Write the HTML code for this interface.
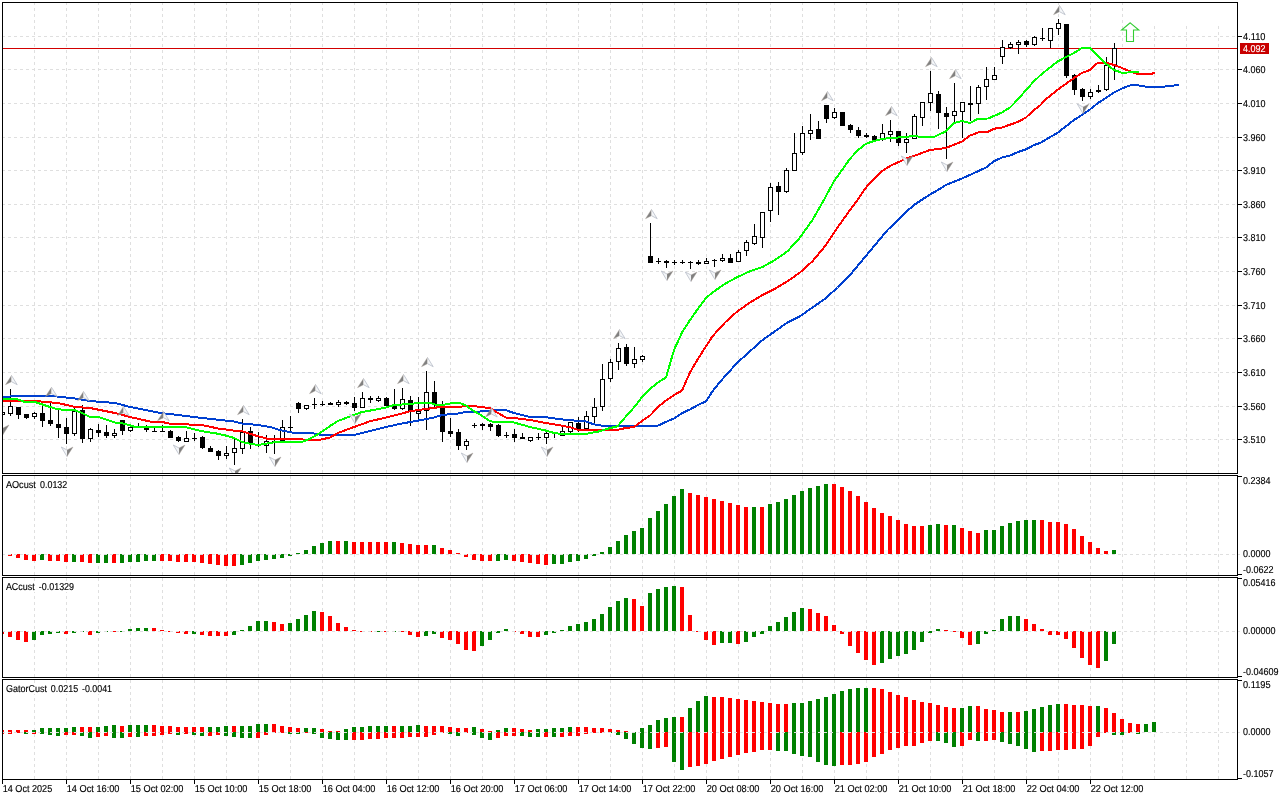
<!DOCTYPE html>
<html><head><meta charset="utf-8"><title>Chart</title>
<style>html,body{margin:0;padding:0;background:#fff;overflow:hidden}svg{display:block}text{font-family:"Liberation Sans",sans-serif;fill:#000}</style>
</head><body>
<svg width="1280" height="800" viewBox="0 0 1280 800" shape-rendering="crispEdges">
<rect width="1280" height="800" fill="#fff"/>
<g stroke="#dfdfdf" stroke-width="1" stroke-dasharray="3 3" fill="none">
<line x1="2" y1="36.5" x2="1237" y2="36.5"/>
<line x1="2" y1="69.5" x2="1237" y2="69.5"/>
<line x1="2" y1="103.5" x2="1237" y2="103.5"/>
<line x1="2" y1="137.5" x2="1237" y2="137.5"/>
<line x1="2" y1="170.5" x2="1237" y2="170.5"/>
<line x1="2" y1="204.5" x2="1237" y2="204.5"/>
<line x1="2" y1="237.5" x2="1237" y2="237.5"/>
<line x1="2" y1="271.5" x2="1237" y2="271.5"/>
<line x1="2" y1="305.5" x2="1237" y2="305.5"/>
<line x1="2" y1="338.5" x2="1237" y2="338.5"/>
<line x1="2" y1="372.5" x2="1237" y2="372.5"/>
<line x1="2" y1="406.5" x2="1237" y2="406.5"/>
<line x1="2" y1="439.5" x2="1237" y2="439.5"/>
<line x1="2" y1="554.5" x2="1240" y2="554.5"/>
<line x1="2" y1="631.5" x2="1240" y2="631.5"/>
<line x1="2" y1="732.5" x2="1240" y2="732.5"/>
<line x1="34.5" y1="3" x2="34.5" y2="473" stroke-dashoffset="1"/>
<line x1="34.5" y1="476" x2="34.5" y2="575" stroke-dashoffset="0"/>
<line x1="34.5" y1="578" x2="34.5" y2="677" stroke-dashoffset="0"/>
<line x1="34.5" y1="680" x2="34.5" y2="779" stroke-dashoffset="0"/>
<line x1="66.5" y1="3" x2="66.5" y2="473" stroke-dashoffset="1"/>
<line x1="66.5" y1="476" x2="66.5" y2="575" stroke-dashoffset="0"/>
<line x1="66.5" y1="578" x2="66.5" y2="677" stroke-dashoffset="0"/>
<line x1="66.5" y1="680" x2="66.5" y2="779" stroke-dashoffset="0"/>
<line x1="98.5" y1="3" x2="98.5" y2="473" stroke-dashoffset="1"/>
<line x1="98.5" y1="476" x2="98.5" y2="575" stroke-dashoffset="0"/>
<line x1="98.5" y1="578" x2="98.5" y2="677" stroke-dashoffset="0"/>
<line x1="98.5" y1="680" x2="98.5" y2="779" stroke-dashoffset="0"/>
<line x1="130.5" y1="3" x2="130.5" y2="473" stroke-dashoffset="1"/>
<line x1="130.5" y1="476" x2="130.5" y2="575" stroke-dashoffset="0"/>
<line x1="130.5" y1="578" x2="130.5" y2="677" stroke-dashoffset="0"/>
<line x1="130.5" y1="680" x2="130.5" y2="779" stroke-dashoffset="0"/>
<line x1="162.5" y1="3" x2="162.5" y2="473" stroke-dashoffset="1"/>
<line x1="162.5" y1="476" x2="162.5" y2="575" stroke-dashoffset="0"/>
<line x1="162.5" y1="578" x2="162.5" y2="677" stroke-dashoffset="0"/>
<line x1="162.5" y1="680" x2="162.5" y2="779" stroke-dashoffset="0"/>
<line x1="194.5" y1="3" x2="194.5" y2="473" stroke-dashoffset="1"/>
<line x1="194.5" y1="476" x2="194.5" y2="575" stroke-dashoffset="0"/>
<line x1="194.5" y1="578" x2="194.5" y2="677" stroke-dashoffset="0"/>
<line x1="194.5" y1="680" x2="194.5" y2="779" stroke-dashoffset="0"/>
<line x1="226.5" y1="3" x2="226.5" y2="473" stroke-dashoffset="1"/>
<line x1="226.5" y1="476" x2="226.5" y2="575" stroke-dashoffset="0"/>
<line x1="226.5" y1="578" x2="226.5" y2="677" stroke-dashoffset="0"/>
<line x1="226.5" y1="680" x2="226.5" y2="779" stroke-dashoffset="0"/>
<line x1="258.5" y1="3" x2="258.5" y2="473" stroke-dashoffset="1"/>
<line x1="258.5" y1="476" x2="258.5" y2="575" stroke-dashoffset="0"/>
<line x1="258.5" y1="578" x2="258.5" y2="677" stroke-dashoffset="0"/>
<line x1="258.5" y1="680" x2="258.5" y2="779" stroke-dashoffset="0"/>
<line x1="290.5" y1="3" x2="290.5" y2="473" stroke-dashoffset="1"/>
<line x1="290.5" y1="476" x2="290.5" y2="575" stroke-dashoffset="0"/>
<line x1="290.5" y1="578" x2="290.5" y2="677" stroke-dashoffset="0"/>
<line x1="290.5" y1="680" x2="290.5" y2="779" stroke-dashoffset="0"/>
<line x1="322.5" y1="3" x2="322.5" y2="473" stroke-dashoffset="1"/>
<line x1="322.5" y1="476" x2="322.5" y2="575" stroke-dashoffset="0"/>
<line x1="322.5" y1="578" x2="322.5" y2="677" stroke-dashoffset="0"/>
<line x1="322.5" y1="680" x2="322.5" y2="779" stroke-dashoffset="0"/>
<line x1="354.5" y1="3" x2="354.5" y2="473" stroke-dashoffset="1"/>
<line x1="354.5" y1="476" x2="354.5" y2="575" stroke-dashoffset="0"/>
<line x1="354.5" y1="578" x2="354.5" y2="677" stroke-dashoffset="0"/>
<line x1="354.5" y1="680" x2="354.5" y2="779" stroke-dashoffset="0"/>
<line x1="386.5" y1="3" x2="386.5" y2="473" stroke-dashoffset="1"/>
<line x1="386.5" y1="476" x2="386.5" y2="575" stroke-dashoffset="0"/>
<line x1="386.5" y1="578" x2="386.5" y2="677" stroke-dashoffset="0"/>
<line x1="386.5" y1="680" x2="386.5" y2="779" stroke-dashoffset="0"/>
<line x1="418.5" y1="3" x2="418.5" y2="473" stroke-dashoffset="1"/>
<line x1="418.5" y1="476" x2="418.5" y2="575" stroke-dashoffset="0"/>
<line x1="418.5" y1="578" x2="418.5" y2="677" stroke-dashoffset="0"/>
<line x1="418.5" y1="680" x2="418.5" y2="779" stroke-dashoffset="0"/>
<line x1="450.5" y1="3" x2="450.5" y2="473" stroke-dashoffset="1"/>
<line x1="450.5" y1="476" x2="450.5" y2="575" stroke-dashoffset="0"/>
<line x1="450.5" y1="578" x2="450.5" y2="677" stroke-dashoffset="0"/>
<line x1="450.5" y1="680" x2="450.5" y2="779" stroke-dashoffset="0"/>
<line x1="482.5" y1="3" x2="482.5" y2="473" stroke-dashoffset="1"/>
<line x1="482.5" y1="476" x2="482.5" y2="575" stroke-dashoffset="0"/>
<line x1="482.5" y1="578" x2="482.5" y2="677" stroke-dashoffset="0"/>
<line x1="482.5" y1="680" x2="482.5" y2="779" stroke-dashoffset="0"/>
<line x1="514.5" y1="3" x2="514.5" y2="473" stroke-dashoffset="1"/>
<line x1="514.5" y1="476" x2="514.5" y2="575" stroke-dashoffset="0"/>
<line x1="514.5" y1="578" x2="514.5" y2="677" stroke-dashoffset="0"/>
<line x1="514.5" y1="680" x2="514.5" y2="779" stroke-dashoffset="0"/>
<line x1="546.5" y1="3" x2="546.5" y2="473" stroke-dashoffset="1"/>
<line x1="546.5" y1="476" x2="546.5" y2="575" stroke-dashoffset="0"/>
<line x1="546.5" y1="578" x2="546.5" y2="677" stroke-dashoffset="0"/>
<line x1="546.5" y1="680" x2="546.5" y2="779" stroke-dashoffset="0"/>
<line x1="578.5" y1="3" x2="578.5" y2="473" stroke-dashoffset="1"/>
<line x1="578.5" y1="476" x2="578.5" y2="575" stroke-dashoffset="0"/>
<line x1="578.5" y1="578" x2="578.5" y2="677" stroke-dashoffset="0"/>
<line x1="578.5" y1="680" x2="578.5" y2="779" stroke-dashoffset="0"/>
<line x1="610.5" y1="3" x2="610.5" y2="473" stroke-dashoffset="1"/>
<line x1="610.5" y1="476" x2="610.5" y2="575" stroke-dashoffset="0"/>
<line x1="610.5" y1="578" x2="610.5" y2="677" stroke-dashoffset="0"/>
<line x1="610.5" y1="680" x2="610.5" y2="779" stroke-dashoffset="0"/>
<line x1="642.5" y1="3" x2="642.5" y2="473" stroke-dashoffset="1"/>
<line x1="642.5" y1="476" x2="642.5" y2="575" stroke-dashoffset="0"/>
<line x1="642.5" y1="578" x2="642.5" y2="677" stroke-dashoffset="0"/>
<line x1="642.5" y1="680" x2="642.5" y2="779" stroke-dashoffset="0"/>
<line x1="674.5" y1="3" x2="674.5" y2="473" stroke-dashoffset="1"/>
<line x1="674.5" y1="476" x2="674.5" y2="575" stroke-dashoffset="0"/>
<line x1="674.5" y1="578" x2="674.5" y2="677" stroke-dashoffset="0"/>
<line x1="674.5" y1="680" x2="674.5" y2="779" stroke-dashoffset="0"/>
<line x1="706.5" y1="3" x2="706.5" y2="473" stroke-dashoffset="1"/>
<line x1="706.5" y1="476" x2="706.5" y2="575" stroke-dashoffset="0"/>
<line x1="706.5" y1="578" x2="706.5" y2="677" stroke-dashoffset="0"/>
<line x1="706.5" y1="680" x2="706.5" y2="779" stroke-dashoffset="0"/>
<line x1="738.5" y1="3" x2="738.5" y2="473" stroke-dashoffset="1"/>
<line x1="738.5" y1="476" x2="738.5" y2="575" stroke-dashoffset="0"/>
<line x1="738.5" y1="578" x2="738.5" y2="677" stroke-dashoffset="0"/>
<line x1="738.5" y1="680" x2="738.5" y2="779" stroke-dashoffset="0"/>
<line x1="770.5" y1="3" x2="770.5" y2="473" stroke-dashoffset="1"/>
<line x1="770.5" y1="476" x2="770.5" y2="575" stroke-dashoffset="0"/>
<line x1="770.5" y1="578" x2="770.5" y2="677" stroke-dashoffset="0"/>
<line x1="770.5" y1="680" x2="770.5" y2="779" stroke-dashoffset="0"/>
<line x1="802.5" y1="3" x2="802.5" y2="473" stroke-dashoffset="1"/>
<line x1="802.5" y1="476" x2="802.5" y2="575" stroke-dashoffset="0"/>
<line x1="802.5" y1="578" x2="802.5" y2="677" stroke-dashoffset="0"/>
<line x1="802.5" y1="680" x2="802.5" y2="779" stroke-dashoffset="0"/>
<line x1="834.5" y1="3" x2="834.5" y2="473" stroke-dashoffset="1"/>
<line x1="834.5" y1="476" x2="834.5" y2="575" stroke-dashoffset="0"/>
<line x1="834.5" y1="578" x2="834.5" y2="677" stroke-dashoffset="0"/>
<line x1="834.5" y1="680" x2="834.5" y2="779" stroke-dashoffset="0"/>
<line x1="866.5" y1="3" x2="866.5" y2="473" stroke-dashoffset="1"/>
<line x1="866.5" y1="476" x2="866.5" y2="575" stroke-dashoffset="0"/>
<line x1="866.5" y1="578" x2="866.5" y2="677" stroke-dashoffset="0"/>
<line x1="866.5" y1="680" x2="866.5" y2="779" stroke-dashoffset="0"/>
<line x1="898.5" y1="3" x2="898.5" y2="473" stroke-dashoffset="1"/>
<line x1="898.5" y1="476" x2="898.5" y2="575" stroke-dashoffset="0"/>
<line x1="898.5" y1="578" x2="898.5" y2="677" stroke-dashoffset="0"/>
<line x1="898.5" y1="680" x2="898.5" y2="779" stroke-dashoffset="0"/>
<line x1="930.5" y1="3" x2="930.5" y2="473" stroke-dashoffset="1"/>
<line x1="930.5" y1="476" x2="930.5" y2="575" stroke-dashoffset="0"/>
<line x1="930.5" y1="578" x2="930.5" y2="677" stroke-dashoffset="0"/>
<line x1="930.5" y1="680" x2="930.5" y2="779" stroke-dashoffset="0"/>
<line x1="962.5" y1="3" x2="962.5" y2="473" stroke-dashoffset="1"/>
<line x1="962.5" y1="476" x2="962.5" y2="575" stroke-dashoffset="0"/>
<line x1="962.5" y1="578" x2="962.5" y2="677" stroke-dashoffset="0"/>
<line x1="962.5" y1="680" x2="962.5" y2="779" stroke-dashoffset="0"/>
<line x1="994.5" y1="3" x2="994.5" y2="473" stroke-dashoffset="1"/>
<line x1="994.5" y1="476" x2="994.5" y2="575" stroke-dashoffset="0"/>
<line x1="994.5" y1="578" x2="994.5" y2="677" stroke-dashoffset="0"/>
<line x1="994.5" y1="680" x2="994.5" y2="779" stroke-dashoffset="0"/>
<line x1="1026.5" y1="3" x2="1026.5" y2="473" stroke-dashoffset="1"/>
<line x1="1026.5" y1="476" x2="1026.5" y2="575" stroke-dashoffset="0"/>
<line x1="1026.5" y1="578" x2="1026.5" y2="677" stroke-dashoffset="0"/>
<line x1="1026.5" y1="680" x2="1026.5" y2="779" stroke-dashoffset="0"/>
<line x1="1058.5" y1="3" x2="1058.5" y2="473" stroke-dashoffset="1"/>
<line x1="1058.5" y1="476" x2="1058.5" y2="575" stroke-dashoffset="0"/>
<line x1="1058.5" y1="578" x2="1058.5" y2="677" stroke-dashoffset="0"/>
<line x1="1058.5" y1="680" x2="1058.5" y2="779" stroke-dashoffset="0"/>
<line x1="1090.5" y1="3" x2="1090.5" y2="473" stroke-dashoffset="1"/>
<line x1="1090.5" y1="476" x2="1090.5" y2="575" stroke-dashoffset="0"/>
<line x1="1090.5" y1="578" x2="1090.5" y2="677" stroke-dashoffset="0"/>
<line x1="1090.5" y1="680" x2="1090.5" y2="779" stroke-dashoffset="0"/>
<line x1="1122.5" y1="3" x2="1122.5" y2="473" stroke-dashoffset="1"/>
<line x1="1122.5" y1="476" x2="1122.5" y2="575" stroke-dashoffset="0"/>
<line x1="1122.5" y1="578" x2="1122.5" y2="677" stroke-dashoffset="0"/>
<line x1="1122.5" y1="680" x2="1122.5" y2="779" stroke-dashoffset="0"/>
<line x1="1154.5" y1="3" x2="1154.5" y2="473" stroke-dashoffset="1"/>
<line x1="1154.5" y1="476" x2="1154.5" y2="575" stroke-dashoffset="0"/>
<line x1="1154.5" y1="578" x2="1154.5" y2="677" stroke-dashoffset="0"/>
<line x1="1154.5" y1="680" x2="1154.5" y2="779" stroke-dashoffset="0"/>
<line x1="1186.5" y1="3" x2="1186.5" y2="473" stroke-dashoffset="1"/>
<line x1="1186.5" y1="476" x2="1186.5" y2="575" stroke-dashoffset="0"/>
<line x1="1186.5" y1="578" x2="1186.5" y2="677" stroke-dashoffset="0"/>
<line x1="1186.5" y1="680" x2="1186.5" y2="779" stroke-dashoffset="0"/>
<line x1="1218.5" y1="3" x2="1218.5" y2="473" stroke-dashoffset="1"/>
<line x1="1218.5" y1="476" x2="1218.5" y2="575" stroke-dashoffset="0"/>
<line x1="1218.5" y1="578" x2="1218.5" y2="677" stroke-dashoffset="0"/>
<line x1="1218.5" y1="680" x2="1218.5" y2="779" stroke-dashoffset="0"/>
</g>
<rect x="1130" y="3" width="107" height="23" fill="#fff"/>
<rect x="3" y="48" width="1234" height="1" fill="#d20000"/>
<defs><clipPath id="mc"><rect x="3" y="3" width="1234" height="470"/></clipPath></defs>
<g clip-path="url(#mc)">
<g>
<rect x="3" y="412" width="2" height="3" fill="#000"/><rect x="3" y="413" width="1" height="1" fill="#fff"/>
<rect x="10" y="389" width="1" height="27" fill="#000"/>
<rect x="8" y="406" width="5" height="8" fill="#000"/>
<rect x="9" y="407" width="3" height="6" fill="#fff"/>
<rect x="18" y="407" width="1" height="12" fill="#000"/>
<rect x="16" y="407" width="5" height="8" fill="#000"/>
<rect x="26" y="414" width="1" height="5" fill="#000"/>
<rect x="24" y="414" width="5" height="4" fill="#000"/>
<rect x="34" y="412" width="1" height="7" fill="#000"/>
<rect x="32" y="413" width="5" height="4" fill="#000"/>
<rect x="33" y="414" width="3" height="2" fill="#fff"/>
<rect x="42" y="403" width="1" height="24" fill="#000"/>
<rect x="40" y="413" width="5" height="8" fill="#000"/>
<rect x="50" y="403" width="1" height="23" fill="#000"/>
<rect x="48" y="420" width="5" height="4" fill="#000"/>
<rect x="58" y="409" width="1" height="29" fill="#000"/>
<rect x="56" y="424" width="5" height="4" fill="#000"/>
<rect x="66" y="418" width="1" height="26" fill="#000"/>
<rect x="64" y="427" width="5" height="7" fill="#000"/>
<rect x="74" y="407" width="1" height="29" fill="#000"/>
<rect x="72" y="411" width="5" height="23" fill="#000"/>
<rect x="73" y="412" width="3" height="21" fill="#fff"/>
<rect x="82" y="405" width="1" height="38" fill="#000"/>
<rect x="80" y="410" width="5" height="29" fill="#000"/>
<rect x="90" y="428" width="1" height="14" fill="#000"/>
<rect x="88" y="429" width="5" height="10" fill="#000"/>
<rect x="89" y="430" width="3" height="8" fill="#fff"/>
<rect x="98" y="424" width="1" height="13" fill="#000"/>
<rect x="96" y="430" width="5" height="3" fill="#000"/>
<rect x="106" y="425" width="1" height="13" fill="#000"/>
<rect x="104" y="432" width="5" height="4" fill="#000"/>
<rect x="114" y="429" width="1" height="9" fill="#000"/>
<rect x="112" y="433" width="5" height="3" fill="#000"/>
<rect x="113" y="434" width="3" height="1" fill="#fff"/>
<rect x="122" y="420" width="1" height="15" fill="#000"/>
<rect x="120" y="420" width="5" height="11" fill="#000"/>
<rect x="130" y="427" width="1" height="5" fill="#000"/>
<rect x="128" y="427" width="5" height="4" fill="#000"/>
<rect x="129" y="428" width="3" height="2" fill="#fff"/>
<rect x="138" y="423" width="1" height="5" fill="#000"/>
<rect x="136" y="427" width="5" height="1" fill="#000"/>
<rect x="146" y="425" width="1" height="7" fill="#000"/>
<rect x="144" y="428" width="5" height="2" fill="#000"/>
<rect x="154" y="427" width="1" height="5" fill="#000"/>
<rect x="152" y="431" width="5" height="1" fill="#000"/>
<rect x="162" y="425" width="1" height="7" fill="#000"/>
<rect x="160" y="431" width="5" height="1" fill="#000"/>
<rect x="170" y="430" width="1" height="8" fill="#000"/>
<rect x="168" y="431" width="5" height="7" fill="#000"/>
<rect x="178" y="436" width="1" height="6" fill="#000"/>
<rect x="176" y="437" width="5" height="4" fill="#000"/>
<rect x="186" y="431" width="1" height="11" fill="#000"/>
<rect x="184" y="438" width="5" height="4" fill="#000"/>
<rect x="185" y="439" width="3" height="2" fill="#fff"/>
<rect x="194" y="433" width="1" height="8" fill="#000"/>
<rect x="192" y="438" width="5" height="1" fill="#000"/>
<rect x="202" y="436" width="1" height="13" fill="#000"/>
<rect x="200" y="437" width="5" height="11" fill="#000"/>
<rect x="210" y="446" width="1" height="6" fill="#000"/>
<rect x="208" y="448" width="5" height="4" fill="#000"/>
<rect x="218" y="450" width="1" height="10" fill="#000"/>
<rect x="216" y="451" width="5" height="5" fill="#000"/>
<rect x="226" y="446" width="1" height="13" fill="#000"/>
<rect x="224" y="453" width="5" height="3" fill="#000"/>
<rect x="225" y="454" width="3" height="1" fill="#fff"/>
<rect x="234" y="438" width="1" height="27" fill="#000"/>
<rect x="232" y="448" width="5" height="5" fill="#000"/>
<rect x="233" y="449" width="3" height="3" fill="#fff"/>
<rect x="242" y="419" width="1" height="35" fill="#000"/>
<rect x="240" y="432" width="5" height="17" fill="#000"/>
<rect x="241" y="433" width="3" height="15" fill="#fff"/>
<rect x="250" y="427" width="1" height="22" fill="#000"/>
<rect x="248" y="431" width="5" height="12" fill="#000"/>
<rect x="258" y="432" width="1" height="15" fill="#000"/>
<rect x="256" y="444" width="5" height="1" fill="#000"/>
<rect x="266" y="435" width="1" height="18" fill="#000"/>
<rect x="264" y="441" width="5" height="5" fill="#000"/>
<rect x="265" y="442" width="3" height="3" fill="#fff"/>
<rect x="274" y="435" width="1" height="19" fill="#000"/>
<rect x="272" y="441" width="5" height="1" fill="#000"/>
<rect x="282" y="420" width="1" height="21" fill="#000"/>
<rect x="280" y="427" width="5" height="14" fill="#000"/>
<rect x="281" y="428" width="3" height="12" fill="#fff"/>
<rect x="290" y="416" width="1" height="17" fill="#000"/>
<rect x="288" y="427" width="5" height="1" fill="#000"/>
<rect x="298" y="402" width="1" height="11" fill="#000"/>
<rect x="296" y="403" width="5" height="6" fill="#000"/>
<rect x="306" y="405" width="1" height="5" fill="#000"/>
<rect x="304" y="405" width="5" height="4" fill="#000"/>
<rect x="305" y="406" width="3" height="2" fill="#fff"/>
<rect x="314" y="398" width="1" height="11" fill="#000"/>
<rect x="312" y="404" width="5" height="1" fill="#000"/>
<rect x="322" y="401" width="1" height="5" fill="#000"/>
<rect x="320" y="404" width="5" height="1" fill="#000"/>
<rect x="330" y="402" width="1" height="3" fill="#000"/>
<rect x="328" y="403" width="5" height="2" fill="#000"/>
<rect x="338" y="400" width="1" height="7" fill="#000"/>
<rect x="336" y="402" width="5" height="3" fill="#000"/>
<rect x="337" y="403" width="3" height="1" fill="#fff"/>
<rect x="346" y="401" width="1" height="4" fill="#000"/>
<rect x="344" y="402" width="5" height="2" fill="#000"/>
<rect x="354" y="397" width="1" height="14" fill="#000"/>
<rect x="352" y="403" width="5" height="5" fill="#000"/>
<rect x="362" y="392" width="1" height="16" fill="#000"/>
<rect x="360" y="398" width="5" height="10" fill="#000"/>
<rect x="361" y="399" width="3" height="8" fill="#fff"/>
<rect x="370" y="396" width="1" height="7" fill="#000"/>
<rect x="368" y="398" width="5" height="2" fill="#000"/>
<rect x="378" y="396" width="1" height="6" fill="#000"/>
<rect x="376" y="398" width="5" height="3" fill="#000"/>
<rect x="377" y="399" width="3" height="1" fill="#fff"/>
<rect x="386" y="397" width="1" height="9" fill="#000"/>
<rect x="384" y="398" width="5" height="8" fill="#000"/>
<rect x="394" y="389" width="1" height="21" fill="#000"/>
<rect x="392" y="406" width="5" height="3" fill="#000"/>
<rect x="402" y="388" width="1" height="22" fill="#000"/>
<rect x="400" y="399" width="5" height="10" fill="#000"/>
<rect x="401" y="400" width="3" height="8" fill="#fff"/>
<rect x="410" y="396" width="1" height="30" fill="#000"/>
<rect x="408" y="400" width="5" height="11" fill="#000"/>
<rect x="418" y="397" width="1" height="22" fill="#000"/>
<rect x="416" y="411" width="5" height="3" fill="#000"/>
<rect x="417" y="412" width="3" height="1" fill="#fff"/>
<rect x="426" y="371" width="1" height="59" fill="#000"/>
<rect x="424" y="392" width="5" height="19" fill="#000"/>
<rect x="425" y="393" width="3" height="17" fill="#fff"/>
<rect x="434" y="381" width="1" height="26" fill="#000"/>
<rect x="432" y="392" width="5" height="13" fill="#000"/>
<rect x="442" y="401" width="1" height="41" fill="#000"/>
<rect x="440" y="406" width="5" height="26" fill="#000"/>
<rect x="450" y="418" width="1" height="19" fill="#000"/>
<rect x="448" y="431" width="5" height="3" fill="#000"/>
<rect x="458" y="429" width="1" height="21" fill="#000"/>
<rect x="456" y="432" width="5" height="14" fill="#000"/>
<rect x="466" y="439" width="1" height="11" fill="#000"/>
<rect x="464" y="441" width="5" height="5" fill="#000"/>
<rect x="465" y="442" width="3" height="3" fill="#fff"/>
<rect x="474" y="423" width="1" height="5" fill="#000"/>
<rect x="472" y="425" width="5" height="1" fill="#000"/>
<rect x="482" y="423" width="1" height="7" fill="#000"/>
<rect x="480" y="424" width="5" height="2" fill="#000"/>
<rect x="490" y="423" width="1" height="8" fill="#000"/>
<rect x="488" y="424" width="5" height="3" fill="#000"/>
<rect x="498" y="424" width="1" height="13" fill="#000"/>
<rect x="496" y="425" width="5" height="11" fill="#000"/>
<rect x="506" y="432" width="1" height="6" fill="#000"/>
<rect x="504" y="435" width="5" height="1" fill="#000"/>
<rect x="514" y="429" width="1" height="13" fill="#000"/>
<rect x="512" y="434" width="5" height="4" fill="#000"/>
<rect x="522" y="433" width="1" height="6" fill="#000"/>
<rect x="520" y="437" width="5" height="2" fill="#000"/>
<rect x="530" y="437" width="1" height="5" fill="#000"/>
<rect x="528" y="437" width="5" height="4" fill="#000"/>
<rect x="529" y="438" width="3" height="2" fill="#fff"/>
<rect x="538" y="433" width="1" height="7" fill="#000"/>
<rect x="536" y="437" width="5" height="1" fill="#000"/>
<rect x="546" y="432" width="1" height="12" fill="#000"/>
<rect x="544" y="433" width="5" height="5" fill="#000"/>
<rect x="545" y="434" width="3" height="3" fill="#fff"/>
<rect x="554" y="433" width="1" height="5" fill="#000"/>
<rect x="552" y="433" width="5" height="1" fill="#000"/>
<rect x="562" y="427" width="1" height="9" fill="#000"/>
<rect x="560" y="431" width="5" height="5" fill="#000"/>
<rect x="561" y="432" width="3" height="3" fill="#fff"/>
<rect x="570" y="422" width="1" height="11" fill="#000"/>
<rect x="568" y="422" width="5" height="10" fill="#000"/>
<rect x="569" y="423" width="3" height="8" fill="#fff"/>
<rect x="578" y="417" width="1" height="15" fill="#000"/>
<rect x="576" y="423" width="5" height="6" fill="#000"/>
<rect x="586" y="411" width="1" height="18" fill="#000"/>
<rect x="584" y="416" width="5" height="13" fill="#000"/>
<rect x="585" y="417" width="3" height="11" fill="#fff"/>
<rect x="594" y="398" width="1" height="25" fill="#000"/>
<rect x="592" y="407" width="5" height="10" fill="#000"/>
<rect x="593" y="408" width="3" height="8" fill="#fff"/>
<rect x="602" y="364" width="1" height="47" fill="#000"/>
<rect x="600" y="379" width="5" height="28" fill="#000"/>
<rect x="601" y="380" width="3" height="26" fill="#fff"/>
<rect x="610" y="359" width="1" height="23" fill="#000"/>
<rect x="608" y="362" width="5" height="17" fill="#000"/>
<rect x="609" y="363" width="3" height="15" fill="#fff"/>
<rect x="618" y="343" width="1" height="27" fill="#000"/>
<rect x="616" y="348" width="5" height="14" fill="#000"/>
<rect x="617" y="349" width="3" height="12" fill="#fff"/>
<rect x="626" y="344" width="1" height="22" fill="#000"/>
<rect x="624" y="347" width="5" height="17" fill="#000"/>
<rect x="634" y="347" width="1" height="21" fill="#000"/>
<rect x="632" y="359" width="5" height="5" fill="#000"/>
<rect x="633" y="360" width="3" height="3" fill="#fff"/>
<rect x="642" y="355" width="1" height="7" fill="#000"/>
<rect x="640" y="356" width="5" height="4" fill="#000"/>
<rect x="641" y="357" width="3" height="2" fill="#fff"/>
<rect x="650" y="223" width="1" height="40" fill="#000"/>
<rect x="648" y="256" width="5" height="7" fill="#000"/>
<rect x="658" y="258" width="1" height="6" fill="#000"/>
<rect x="656" y="261" width="5" height="1" fill="#000"/>
<rect x="666" y="260" width="1" height="8" fill="#000"/>
<rect x="664" y="261" width="5" height="2" fill="#000"/>
<rect x="674" y="260" width="1" height="5" fill="#000"/>
<rect x="672" y="262" width="5" height="1" fill="#000"/>
<rect x="682" y="260" width="1" height="4" fill="#000"/>
<rect x="680" y="262" width="5" height="1" fill="#000"/>
<rect x="690" y="261" width="1" height="8" fill="#000"/>
<rect x="688" y="262" width="5" height="1" fill="#000"/>
<rect x="698" y="260" width="1" height="5" fill="#000"/>
<rect x="696" y="262" width="5" height="2" fill="#000"/>
<rect x="706" y="258" width="1" height="6" fill="#000"/>
<rect x="704" y="261" width="5" height="3" fill="#000"/>
<rect x="705" y="262" width="3" height="1" fill="#fff"/>
<rect x="714" y="259" width="1" height="8" fill="#000"/>
<rect x="712" y="260" width="5" height="1" fill="#000"/>
<rect x="722" y="254" width="1" height="8" fill="#000"/>
<rect x="720" y="258" width="5" height="3" fill="#000"/>
<rect x="721" y="259" width="3" height="1" fill="#fff"/>
<rect x="730" y="254" width="1" height="9" fill="#000"/>
<rect x="728" y="258" width="5" height="5" fill="#000"/>
<rect x="738" y="250" width="1" height="12" fill="#000"/>
<rect x="736" y="252" width="5" height="10" fill="#000"/>
<rect x="737" y="253" width="3" height="8" fill="#fff"/>
<rect x="746" y="240" width="1" height="16" fill="#000"/>
<rect x="744" y="242" width="5" height="9" fill="#000"/>
<rect x="745" y="243" width="3" height="7" fill="#fff"/>
<rect x="754" y="224" width="1" height="21" fill="#000"/>
<rect x="752" y="236" width="5" height="8" fill="#000"/>
<rect x="753" y="237" width="3" height="6" fill="#fff"/>
<rect x="762" y="212" width="1" height="36" fill="#000"/>
<rect x="760" y="212" width="5" height="26" fill="#000"/>
<rect x="761" y="213" width="3" height="24" fill="#fff"/>
<rect x="770" y="183" width="1" height="39" fill="#000"/>
<rect x="768" y="187" width="5" height="24" fill="#000"/>
<rect x="769" y="188" width="3" height="22" fill="#fff"/>
<rect x="778" y="182" width="1" height="33" fill="#000"/>
<rect x="776" y="186" width="5" height="6" fill="#000"/>
<rect x="786" y="168" width="1" height="25" fill="#000"/>
<rect x="784" y="170" width="5" height="22" fill="#000"/>
<rect x="785" y="171" width="3" height="20" fill="#fff"/>
<rect x="794" y="133" width="1" height="38" fill="#000"/>
<rect x="792" y="153" width="5" height="18" fill="#000"/>
<rect x="793" y="154" width="3" height="16" fill="#fff"/>
<rect x="802" y="126" width="1" height="29" fill="#000"/>
<rect x="800" y="133" width="5" height="20" fill="#000"/>
<rect x="801" y="134" width="3" height="18" fill="#fff"/>
<rect x="810" y="114" width="1" height="26" fill="#000"/>
<rect x="808" y="130" width="5" height="4" fill="#000"/>
<rect x="809" y="131" width="3" height="2" fill="#fff"/>
<rect x="818" y="121" width="1" height="18" fill="#000"/>
<rect x="816" y="129" width="5" height="10" fill="#000"/>
<rect x="826" y="105" width="1" height="18" fill="#000"/>
<rect x="824" y="105" width="5" height="14" fill="#000"/>
<rect x="834" y="108" width="1" height="11" fill="#000"/>
<rect x="832" y="112" width="5" height="6" fill="#000"/>
<rect x="833" y="113" width="3" height="4" fill="#fff"/>
<rect x="842" y="112" width="1" height="14" fill="#000"/>
<rect x="840" y="112" width="5" height="14" fill="#000"/>
<rect x="850" y="124" width="1" height="9" fill="#000"/>
<rect x="848" y="125" width="5" height="5" fill="#000"/>
<rect x="858" y="127" width="1" height="11" fill="#000"/>
<rect x="856" y="130" width="5" height="6" fill="#000"/>
<rect x="866" y="133" width="1" height="5" fill="#000"/>
<rect x="864" y="135" width="5" height="2" fill="#000"/>
<rect x="874" y="135" width="1" height="6" fill="#000"/>
<rect x="872" y="136" width="5" height="5" fill="#000"/>
<rect x="882" y="124" width="1" height="17" fill="#000"/>
<rect x="880" y="133" width="5" height="7" fill="#000"/>
<rect x="881" y="134" width="3" height="5" fill="#fff"/>
<rect x="890" y="120" width="1" height="22" fill="#000"/>
<rect x="888" y="131" width="5" height="4" fill="#000"/>
<rect x="889" y="132" width="3" height="2" fill="#fff"/>
<rect x="898" y="131" width="1" height="15" fill="#000"/>
<rect x="896" y="131" width="5" height="12" fill="#000"/>
<rect x="906" y="133" width="1" height="20" fill="#000"/>
<rect x="904" y="139" width="5" height="4" fill="#000"/>
<rect x="905" y="140" width="3" height="2" fill="#fff"/>
<rect x="914" y="114" width="1" height="25" fill="#000"/>
<rect x="912" y="116" width="5" height="23" fill="#000"/>
<rect x="913" y="117" width="3" height="21" fill="#fff"/>
<rect x="922" y="102" width="1" height="24" fill="#000"/>
<rect x="920" y="102" width="5" height="16" fill="#000"/>
<rect x="921" y="103" width="3" height="14" fill="#fff"/>
<rect x="930" y="71" width="1" height="40" fill="#000"/>
<rect x="928" y="93" width="5" height="10" fill="#000"/>
<rect x="929" y="94" width="3" height="8" fill="#fff"/>
<rect x="938" y="91" width="1" height="38" fill="#000"/>
<rect x="936" y="94" width="5" height="19" fill="#000"/>
<rect x="946" y="107" width="1" height="52" fill="#000"/>
<rect x="944" y="113" width="5" height="4" fill="#000"/>
<rect x="954" y="83" width="1" height="39" fill="#000"/>
<rect x="952" y="111" width="5" height="5" fill="#000"/>
<rect x="953" y="112" width="3" height="3" fill="#fff"/>
<rect x="962" y="102" width="1" height="36" fill="#000"/>
<rect x="960" y="102" width="5" height="10" fill="#000"/>
<rect x="961" y="103" width="3" height="8" fill="#fff"/>
<rect x="970" y="86" width="1" height="35" fill="#000"/>
<rect x="968" y="103" width="5" height="2" fill="#000"/>
<rect x="978" y="85" width="1" height="29" fill="#000"/>
<rect x="976" y="87" width="5" height="17" fill="#000"/>
<rect x="977" y="88" width="3" height="15" fill="#fff"/>
<rect x="986" y="67" width="1" height="33" fill="#000"/>
<rect x="984" y="79" width="5" height="8" fill="#000"/>
<rect x="985" y="80" width="3" height="6" fill="#fff"/>
<rect x="994" y="67" width="1" height="13" fill="#000"/>
<rect x="992" y="75" width="5" height="5" fill="#000"/>
<rect x="993" y="76" width="3" height="3" fill="#fff"/>
<rect x="1002" y="40" width="1" height="24" fill="#000"/>
<rect x="1000" y="47" width="5" height="10" fill="#000"/>
<rect x="1001" y="48" width="3" height="8" fill="#fff"/>
<rect x="1010" y="42" width="1" height="7" fill="#000"/>
<rect x="1008" y="44" width="5" height="4" fill="#000"/>
<rect x="1009" y="45" width="3" height="2" fill="#fff"/>
<rect x="1018" y="40" width="1" height="14" fill="#000"/>
<rect x="1016" y="42" width="5" height="3" fill="#000"/>
<rect x="1017" y="43" width="3" height="1" fill="#fff"/>
<rect x="1026" y="40" width="1" height="7" fill="#000"/>
<rect x="1024" y="41" width="5" height="4" fill="#000"/>
<rect x="1034" y="36" width="1" height="10" fill="#000"/>
<rect x="1032" y="37" width="5" height="8" fill="#000"/>
<rect x="1033" y="38" width="3" height="6" fill="#fff"/>
<rect x="1042" y="28" width="1" height="13" fill="#000"/>
<rect x="1040" y="38" width="5" height="1" fill="#000"/>
<rect x="1050" y="28" width="1" height="20" fill="#000"/>
<rect x="1048" y="28" width="5" height="13" fill="#000"/>
<rect x="1049" y="29" width="3" height="11" fill="#fff"/>
<rect x="1058" y="19" width="1" height="16" fill="#000"/>
<rect x="1056" y="23" width="5" height="6" fill="#000"/>
<rect x="1057" y="24" width="3" height="4" fill="#fff"/>
<rect x="1066" y="24" width="1" height="54" fill="#000"/>
<rect x="1064" y="24" width="5" height="52" fill="#000"/>
<rect x="1074" y="74" width="1" height="21" fill="#000"/>
<rect x="1072" y="75" width="5" height="15" fill="#000"/>
<rect x="1082" y="88" width="1" height="13" fill="#000"/>
<rect x="1080" y="89" width="5" height="8" fill="#000"/>
<rect x="1090" y="89" width="1" height="10" fill="#000"/>
<rect x="1088" y="92" width="5" height="5" fill="#000"/>
<rect x="1089" y="93" width="3" height="3" fill="#fff"/>
<rect x="1098" y="85" width="1" height="8" fill="#000"/>
<rect x="1096" y="90" width="5" height="2" fill="#000"/>
<rect x="1106" y="57" width="1" height="34" fill="#000"/>
<rect x="1104" y="65" width="5" height="25" fill="#000"/>
<rect x="1105" y="66" width="3" height="23" fill="#fff"/>
<rect x="1114" y="43" width="1" height="37" fill="#000"/>
<rect x="1112" y="48" width="5" height="17" fill="#000"/>
<rect x="1113" y="49" width="3" height="15" fill="#fff"/>
</g>
<polyline points="3,397 18,396 57,396.5 75,398.5 90,401 115,403 130,407 146,410 160,413 178,415 202,418 218,419.75 234,421.5 242,423.5 258,425 270,427 282,430.6 295,433 314,433.5 322,435 354,435 370,431 386,427 402,423.5 418,420.6 434,417.5 442,415 458,413.5 466,412 480,411.5 490,410.6 506,410.25 514,413 530,417 546,417.25 562,419.4 570,420 578,421 586,421.5 594,424.4 602,425.6 616,426 642,426.25 658,425.6 666,421.9 675,418 681,413.75 690,409.4 698,405 706,401.25 712.5,391.25 720,382 725,376.25 737.5,362.5 750,351.25 762.5,340 775,331.25 787.5,322.5 800,316.25 812.5,307.5 825,298.75 837.5,287.5 850,275 862.5,260 875,245 887.5,230 898,220 906,212 914,205 930,194.4 938,190 946,185 962,178.5 978,171.25 986,167.5 994,161.25 1002,157.5 1010,155.6 1018,152 1026,149.4 1034,145 1040,143 1058,132.5 1074,120 1082,115 1090,109.4 1098,103 1106,98 1114,92.5 1122,88.5 1130,85.5 1138,85.25 1146,86.75 1162,86.75 1170,86 1179,85" fill="none" stroke="#0040d0" stroke-width="2" stroke-linejoin="round"/>
<polyline points="3,401 35,401 58,403 75,407 90,408 115,413 130,417 150,421.5 160,421.5 170,423.75 186,424.4 202,425 218,428.5 234,430.6 242,431.25 250,433.75 258,436.25 270,439.4 282,439.4 290,438.75 298,438.75 306,440 320,439.75 330,437.5 338,433 354,427 370,421.25 386,417.5 402,413.5 410,411.25 426,409 440,407 458,407 466,406 474,406 480,407 490,408 498,413 506,417.5 514,418 530,420 546,423 562,425.6 570,427.25 578,429.75 594,430 617.5,429.75 626,428 634,427 642.5,420.6 650,415.6 658.75,406.25 666,400.6 675,394.4 682,390.6 686,381.25 690,372.5 698,358.75 706,346.25 712.5,336.25 725,322.5 737.5,311.25 750,302.5 762.5,295 775,288.75 787.5,281.25 800,272.5 812.5,261.25 825,246.25 837.5,227.5 850,210 857.5,200 866,187.5 874,178.75 882,171.25 890,166 906,158.75 922,153 930,150 946,148 962,141.5 970,135.6 978,132.5 988,131.9 994,128.75 1002,127.5 1018,121.9 1026,117.5 1034,110 1040,105.6 1045,100 1058,89.4 1066,83.75 1074,78 1082,73 1090,70 1098,62.5 1106,62.5 1114,65 1122,68 1130,71.25 1138,74 1150,74 1155,73" fill="none" stroke="#ff0000" stroke-width="2" stroke-linejoin="round"/>
<polyline points="3,399 18,399.4 25,402 35,402 50,407 58,409.4 74,410 82,413 90,417 100,417.5 115,422.5 125,423.75 135,427 160,427 186,427.25 202,431.25 218,433.75 226,435.6 234,438 242,442 250,443.75 258,445 266,443.75 274,442.25 290,442 302,442 310,438.75 320,433 330,426 338,421 346,418 354,415 362,412 370,410.6 386,407.5 394,405 410,404 418,403 430,403 436,404.75 444,404.75 452,403 460,403 466,405.6 474,411.25 480,414.5 490,421.25 498,422.25 514,422.5 530,427 546,430.6 554,433 562,434 586,434 594,432.25 600,431.25 607.5,428.75 617.5,426.25 625,417.5 635,406.25 642.5,396.25 650,388.75 658.75,382 666,377.5 674,350 682,332.5 690,320 698,308.75 706,298 712.5,292.5 725,283.75 737.5,277 750,271.25 762.5,267 775,260 787.5,251.25 800,237.5 812.5,220 822.5,202.5 834,181.25 842,170 850,158.75 858,150 866,143.75 874,141 882,139 890,138 898,137.5 914,136 922,137 934,137 946,131.25 954,123 962,121 970,123 978,118.75 988,118.5 1002,112.5 1010,107.5 1018,99.4 1026,90 1034,81.25 1042,73.75 1050,67.5 1058,61.25 1066,57 1074,53 1082,48 1090,48 1098,56.25 1106,63.75 1114,70 1122,72.75 1139,72" fill="none" stroke="#00ff00" stroke-width="2" stroke-linejoin="round"/>
<g shape-rendering="geometricPrecision">
<path d="M11.5,375.5 L5.5,384.7 L11.5,381.7 Z" fill="#808080" stroke="#a8a098" stroke-width="0.4"/>
<path d="M11.5,375.5 L17.2,384.7 L11.5,381.7" fill="#f4f6f8" stroke="#b8bcc8" stroke-width="0.8"/>
<path d="M51.5,387.3 L45.5,396.5 L51.5,393.5 Z" fill="#808080" stroke="#a8a098" stroke-width="0.4"/>
<path d="M51.5,387.3 L57.2,396.5 L51.5,393.5" fill="#f4f6f8" stroke="#b8bcc8" stroke-width="0.8"/>
<path d="M83.5,391.5 L77.5,400.7 L83.5,397.7 Z" fill="#808080" stroke="#a8a098" stroke-width="0.4"/>
<path d="M83.5,391.5 L89.2,400.7 L83.5,397.7" fill="#f4f6f8" stroke="#b8bcc8" stroke-width="0.8"/>
<path d="M123.5,406.5 L117.5,415.7 L123.5,412.7 Z" fill="#808080" stroke="#a8a098" stroke-width="0.4"/>
<path d="M123.5,406.5 L129.2,415.7 L123.5,412.7" fill="#f4f6f8" stroke="#b8bcc8" stroke-width="0.8"/>
<path d="M163.5,411.5 L157.5,420.7 L163.5,417.7 Z" fill="#808080" stroke="#a8a098" stroke-width="0.4"/>
<path d="M163.5,411.5 L169.2,420.7 L163.5,417.7" fill="#f4f6f8" stroke="#b8bcc8" stroke-width="0.8"/>
<path d="M243.5,405.5 L237.5,414.7 L243.5,411.7 Z" fill="#808080" stroke="#a8a098" stroke-width="0.4"/>
<path d="M243.5,405.5 L249.2,414.7 L243.5,411.7" fill="#f4f6f8" stroke="#b8bcc8" stroke-width="0.8"/>
<path d="M315.5,384.5 L309.5,393.7 L315.5,390.7 Z" fill="#808080" stroke="#a8a098" stroke-width="0.4"/>
<path d="M315.5,384.5 L321.2,393.7 L315.5,390.7" fill="#f4f6f8" stroke="#b8bcc8" stroke-width="0.8"/>
<path d="M363.5,378.5 L357.5,387.7 L363.5,384.7 Z" fill="#808080" stroke="#a8a098" stroke-width="0.4"/>
<path d="M363.5,378.5 L369.2,387.7 L363.5,384.7" fill="#f4f6f8" stroke="#b8bcc8" stroke-width="0.8"/>
<path d="M403.5,374.5 L397.5,383.7 L403.5,380.7 Z" fill="#808080" stroke="#a8a098" stroke-width="0.4"/>
<path d="M403.5,374.5 L409.2,383.7 L403.5,380.7" fill="#f4f6f8" stroke="#b8bcc8" stroke-width="0.8"/>
<path d="M427.5,357.5 L421.5,366.7 L427.5,363.7 Z" fill="#808080" stroke="#a8a098" stroke-width="0.4"/>
<path d="M427.5,357.5 L433.2,366.7 L427.5,363.7" fill="#f4f6f8" stroke="#b8bcc8" stroke-width="0.8"/>
<path d="M491.5,407.8 L485.5,417.0 L491.5,414.0 Z" fill="#808080" stroke="#a8a098" stroke-width="0.4"/>
<path d="M491.5,407.8 L497.2,417.0 L491.5,414.0" fill="#f4f6f8" stroke="#b8bcc8" stroke-width="0.8"/>
<path d="M619.5,329.5 L613.5,338.7 L619.5,335.7 Z" fill="#808080" stroke="#a8a098" stroke-width="0.4"/>
<path d="M619.5,329.5 L625.2,338.7 L619.5,335.7" fill="#f4f6f8" stroke="#b8bcc8" stroke-width="0.8"/>
<path d="M651.5,209.5 L645.5,218.7 L651.5,215.7 Z" fill="#808080" stroke="#a8a098" stroke-width="0.4"/>
<path d="M651.5,209.5 L657.2,218.7 L651.5,215.7" fill="#f4f6f8" stroke="#b8bcc8" stroke-width="0.8"/>
<path d="M827.5,91.5 L821.5,100.7 L827.5,97.7 Z" fill="#808080" stroke="#a8a098" stroke-width="0.4"/>
<path d="M827.5,91.5 L833.2,100.7 L827.5,97.7" fill="#f4f6f8" stroke="#b8bcc8" stroke-width="0.8"/>
<path d="M891.5,106.5 L885.5,115.7 L891.5,112.7 Z" fill="#808080" stroke="#a8a098" stroke-width="0.4"/>
<path d="M891.5,106.5 L897.2,115.7 L891.5,112.7" fill="#f4f6f8" stroke="#b8bcc8" stroke-width="0.8"/>
<path d="M931.5,57.5 L925.5,66.7 L931.5,63.7 Z" fill="#808080" stroke="#a8a098" stroke-width="0.4"/>
<path d="M931.5,57.5 L937.2,66.7 L931.5,63.7" fill="#f4f6f8" stroke="#b8bcc8" stroke-width="0.8"/>
<path d="M955.5,69.5 L949.5,78.7 L955.5,75.7 Z" fill="#808080" stroke="#a8a098" stroke-width="0.4"/>
<path d="M955.5,69.5 L961.2,78.7 L955.5,75.7" fill="#f4f6f8" stroke="#b8bcc8" stroke-width="0.8"/>
<path d="M1059.5,5.5 L1053.5,14.7 L1059.5,11.7 Z" fill="#808080" stroke="#a8a098" stroke-width="0.4"/>
<path d="M1059.5,5.5 L1065.2,14.7 L1059.5,11.7" fill="#f4f6f8" stroke="#b8bcc8" stroke-width="0.8"/>
<path d="M3,434.5 L9,425 L3,428 Z" fill="#808080" stroke="#a8a098" stroke-width="0.4"/>
<path d="M3,434.5 L-2.7,425 L3,428" fill="#f4f6f8" stroke="#b8bcc8" stroke-width="0.8"/>
<path d="M67,456.5 L73,447 L67,450 Z" fill="#808080" stroke="#a8a098" stroke-width="0.4"/>
<path d="M67,456.5 L61.3,447 L67,450" fill="#f4f6f8" stroke="#b8bcc8" stroke-width="0.8"/>
<path d="M179,454.5 L185,445 L179,448 Z" fill="#808080" stroke="#a8a098" stroke-width="0.4"/>
<path d="M179,454.5 L173.3,445 L179,448" fill="#f4f6f8" stroke="#b8bcc8" stroke-width="0.8"/>
<path d="M235,477.5 L241,468 L235,471 Z" fill="#808080" stroke="#a8a098" stroke-width="0.4"/>
<path d="M235,477.5 L229.3,468 L235,471" fill="#f4f6f8" stroke="#b8bcc8" stroke-width="0.8"/>
<path d="M275,466.5 L281,457 L275,460 Z" fill="#808080" stroke="#a8a098" stroke-width="0.4"/>
<path d="M275,466.5 L269.3,457 L275,460" fill="#f4f6f8" stroke="#b8bcc8" stroke-width="0.8"/>
<path d="M355,423.5 L361,414 L355,417 Z" fill="#808080" stroke="#a8a098" stroke-width="0.4"/>
<path d="M355,423.5 L349.3,414 L355,417" fill="#f4f6f8" stroke="#b8bcc8" stroke-width="0.8"/>
<path d="M467,462.5 L473,453 L467,456 Z" fill="#808080" stroke="#a8a098" stroke-width="0.4"/>
<path d="M467,462.5 L461.3,453 L467,456" fill="#f4f6f8" stroke="#b8bcc8" stroke-width="0.8"/>
<path d="M547,456.5 L553,447 L547,450 Z" fill="#808080" stroke="#a8a098" stroke-width="0.4"/>
<path d="M547,456.5 L541.3,447 L547,450" fill="#f4f6f8" stroke="#b8bcc8" stroke-width="0.8"/>
<path d="M667,280.5 L673,271 L667,274 Z" fill="#808080" stroke="#a8a098" stroke-width="0.4"/>
<path d="M667,280.5 L661.3,271 L667,274" fill="#f4f6f8" stroke="#b8bcc8" stroke-width="0.8"/>
<path d="M691,281.5 L697,272 L691,275 Z" fill="#808080" stroke="#a8a098" stroke-width="0.4"/>
<path d="M691,281.5 L685.3,272 L691,275" fill="#f4f6f8" stroke="#b8bcc8" stroke-width="0.8"/>
<path d="M715,279.5 L721,270 L715,273 Z" fill="#808080" stroke="#a8a098" stroke-width="0.4"/>
<path d="M715,279.5 L709.3,270 L715,273" fill="#f4f6f8" stroke="#b8bcc8" stroke-width="0.8"/>
<path d="M907,165.5 L913,156 L907,159 Z" fill="#808080" stroke="#a8a098" stroke-width="0.4"/>
<path d="M907,165.5 L901.3,156 L907,159" fill="#f4f6f8" stroke="#b8bcc8" stroke-width="0.8"/>
<path d="M947,171.5 L953,162 L947,165 Z" fill="#808080" stroke="#a8a098" stroke-width="0.4"/>
<path d="M947,171.5 L941.3,162 L947,165" fill="#f4f6f8" stroke="#b8bcc8" stroke-width="0.8"/>
<path d="M1083,113.5 L1089,104 L1083,107 Z" fill="#808080" stroke="#a8a098" stroke-width="0.4"/>
<path d="M1083,113.5 L1077.3,104 L1083,107" fill="#f4f6f8" stroke="#b8bcc8" stroke-width="0.8"/>
<path d="M1130.2,22.8 L1138.8,30 L1133.5,30 L1133.5,41.5 L1126.5,41.5 L1126.5,30 L1121.6,30 Z" fill="none" stroke="#32cd32" stroke-width="1.1"/>
</g>
</g>
<g>
<rect x="8" y="554" width="4" height="2" fill="#ff0000"/>
<rect x="16" y="554" width="4" height="4" fill="#ff0000"/>
<rect x="24" y="554" width="4" height="6" fill="#ff0000"/>
<rect x="32" y="554" width="4" height="7" fill="#ff0000"/>
<rect x="40" y="554" width="4" height="6" fill="#008000"/>
<rect x="48" y="554" width="4" height="7" fill="#ff0000"/>
<rect x="56" y="554" width="4" height="7" fill="#ff0000"/>
<rect x="64" y="554" width="4" height="8" fill="#ff0000"/>
<rect x="72" y="554" width="4" height="8" fill="#008000"/>
<rect x="80" y="554" width="4" height="8" fill="#ff0000"/>
<rect x="88" y="554" width="4" height="9" fill="#ff0000"/>
<rect x="96" y="554" width="4" height="9" fill="#008000"/>
<rect x="104" y="554" width="4" height="9" fill="#008000"/>
<rect x="112" y="554" width="4" height="9" fill="#ff0000"/>
<rect x="120" y="554" width="4" height="9" fill="#008000"/>
<rect x="128" y="554" width="4" height="8" fill="#008000"/>
<rect x="136" y="554" width="4" height="8" fill="#008000"/>
<rect x="144" y="554" width="4" height="7" fill="#008000"/>
<rect x="152" y="554" width="4" height="7" fill="#008000"/>
<rect x="160" y="554" width="4" height="7" fill="#ff0000"/>
<rect x="168" y="554" width="4" height="7" fill="#ff0000"/>
<rect x="176" y="554" width="4" height="8" fill="#ff0000"/>
<rect x="184" y="554" width="4" height="8" fill="#ff0000"/>
<rect x="192" y="554" width="4" height="8" fill="#ff0000"/>
<rect x="200" y="554" width="4" height="9" fill="#ff0000"/>
<rect x="208" y="554" width="4" height="10" fill="#ff0000"/>
<rect x="216" y="554" width="4" height="11" fill="#ff0000"/>
<rect x="224" y="554" width="4" height="12" fill="#ff0000"/>
<rect x="232" y="554" width="4" height="12" fill="#ff0000"/>
<rect x="240" y="554" width="4" height="11" fill="#008000"/>
<rect x="248" y="554" width="4" height="9" fill="#008000"/>
<rect x="256" y="554" width="4" height="7" fill="#008000"/>
<rect x="264" y="554" width="4" height="6" fill="#008000"/>
<rect x="272" y="554" width="4" height="5" fill="#008000"/>
<rect x="280" y="554" width="4" height="4" fill="#008000"/>
<rect x="288" y="554" width="4" height="2" fill="#008000"/>
<rect x="296" y="553" width="4" height="1" fill="#008000"/>
<rect x="304" y="550" width="4" height="4" fill="#008000"/>
<rect x="312" y="546" width="4" height="8" fill="#008000"/>
<rect x="320" y="543" width="4" height="11" fill="#008000"/>
<rect x="328" y="541" width="4" height="13" fill="#008000"/>
<rect x="336" y="541" width="4" height="13" fill="#ff0000"/>
<rect x="344" y="541" width="4" height="13" fill="#008000"/>
<rect x="352" y="542" width="4" height="12" fill="#ff0000"/>
<rect x="360" y="542" width="4" height="12" fill="#ff0000"/>
<rect x="368" y="542" width="4" height="12" fill="#ff0000"/>
<rect x="376" y="542" width="4" height="12" fill="#ff0000"/>
<rect x="384" y="542" width="4" height="12" fill="#ff0000"/>
<rect x="392" y="542" width="4" height="12" fill="#008000"/>
<rect x="400" y="543" width="4" height="11" fill="#ff0000"/>
<rect x="408" y="544" width="4" height="10" fill="#ff0000"/>
<rect x="416" y="545" width="4" height="9" fill="#ff0000"/>
<rect x="424" y="545" width="4" height="9" fill="#ff0000"/>
<rect x="432" y="545" width="4" height="9" fill="#008000"/>
<rect x="440" y="548" width="4" height="6" fill="#ff0000"/>
<rect x="448" y="550" width="4" height="4" fill="#ff0000"/>
<rect x="456" y="553" width="4" height="1" fill="#ff0000"/>
<rect x="464" y="554" width="4" height="3" fill="#ff0000"/>
<rect x="472" y="554" width="4" height="6" fill="#ff0000"/>
<rect x="480" y="554" width="4" height="7" fill="#ff0000"/>
<rect x="488" y="554" width="4" height="7" fill="#ff0000"/>
<rect x="496" y="554" width="4" height="7" fill="#008000"/>
<rect x="504" y="554" width="4" height="6" fill="#008000"/>
<rect x="512" y="554" width="4" height="7" fill="#ff0000"/>
<rect x="520" y="554" width="4" height="8" fill="#ff0000"/>
<rect x="528" y="554" width="4" height="9" fill="#ff0000"/>
<rect x="536" y="554" width="4" height="10" fill="#ff0000"/>
<rect x="544" y="554" width="4" height="11" fill="#ff0000"/>
<rect x="552" y="554" width="4" height="10" fill="#008000"/>
<rect x="560" y="554" width="4" height="10" fill="#008000"/>
<rect x="568" y="554" width="4" height="8" fill="#008000"/>
<rect x="576" y="554" width="4" height="7" fill="#008000"/>
<rect x="584" y="554" width="4" height="5" fill="#008000"/>
<rect x="592" y="554" width="4" height="2" fill="#008000"/>
<rect x="600" y="552" width="4" height="2" fill="#008000"/>
<rect x="608" y="547" width="4" height="7" fill="#008000"/>
<rect x="616" y="541" width="4" height="13" fill="#008000"/>
<rect x="624" y="535" width="4" height="19" fill="#008000"/>
<rect x="632" y="531" width="4" height="23" fill="#008000"/>
<rect x="640" y="528" width="4" height="26" fill="#008000"/>
<rect x="648" y="518" width="4" height="36" fill="#008000"/>
<rect x="656" y="511" width="4" height="43" fill="#008000"/>
<rect x="664" y="504" width="4" height="50" fill="#008000"/>
<rect x="672" y="496" width="4" height="58" fill="#008000"/>
<rect x="680" y="489" width="4" height="65" fill="#008000"/>
<rect x="688" y="493" width="4" height="61" fill="#ff0000"/>
<rect x="696" y="495" width="4" height="59" fill="#ff0000"/>
<rect x="704" y="497" width="4" height="57" fill="#ff0000"/>
<rect x="712" y="499" width="4" height="55" fill="#ff0000"/>
<rect x="720" y="501" width="4" height="53" fill="#ff0000"/>
<rect x="728" y="503" width="4" height="51" fill="#ff0000"/>
<rect x="736" y="505" width="4" height="49" fill="#ff0000"/>
<rect x="744" y="507" width="4" height="47" fill="#ff0000"/>
<rect x="752" y="507" width="4" height="47" fill="#008000"/>
<rect x="760" y="507" width="4" height="47" fill="#ff0000"/>
<rect x="768" y="504" width="4" height="50" fill="#008000"/>
<rect x="776" y="502" width="4" height="52" fill="#008000"/>
<rect x="784" y="499" width="4" height="55" fill="#008000"/>
<rect x="792" y="495" width="4" height="59" fill="#008000"/>
<rect x="800" y="491" width="4" height="63" fill="#008000"/>
<rect x="808" y="488" width="4" height="66" fill="#008000"/>
<rect x="816" y="486" width="4" height="68" fill="#008000"/>
<rect x="824" y="484" width="4" height="70" fill="#008000"/>
<rect x="832" y="484" width="4" height="70" fill="#ff0000"/>
<rect x="840" y="487" width="4" height="67" fill="#ff0000"/>
<rect x="848" y="491" width="4" height="63" fill="#ff0000"/>
<rect x="856" y="496" width="4" height="58" fill="#ff0000"/>
<rect x="864" y="502" width="4" height="52" fill="#ff0000"/>
<rect x="872" y="508" width="4" height="46" fill="#ff0000"/>
<rect x="880" y="513" width="4" height="41" fill="#ff0000"/>
<rect x="888" y="516" width="4" height="38" fill="#ff0000"/>
<rect x="896" y="520" width="4" height="34" fill="#ff0000"/>
<rect x="904" y="524" width="4" height="30" fill="#ff0000"/>
<rect x="912" y="526" width="4" height="28" fill="#ff0000"/>
<rect x="920" y="526" width="4" height="28" fill="#ff0000"/>
<rect x="928" y="525" width="4" height="29" fill="#008000"/>
<rect x="936" y="524" width="4" height="30" fill="#008000"/>
<rect x="944" y="525" width="4" height="29" fill="#ff0000"/>
<rect x="952" y="525" width="4" height="29" fill="#008000"/>
<rect x="960" y="528" width="4" height="26" fill="#ff0000"/>
<rect x="968" y="531" width="4" height="23" fill="#ff0000"/>
<rect x="976" y="533" width="4" height="21" fill="#ff0000"/>
<rect x="984" y="530" width="4" height="24" fill="#008000"/>
<rect x="992" y="530" width="4" height="24" fill="#008000"/>
<rect x="1000" y="526" width="4" height="28" fill="#008000"/>
<rect x="1008" y="523" width="4" height="31" fill="#008000"/>
<rect x="1016" y="521" width="4" height="33" fill="#008000"/>
<rect x="1024" y="520" width="4" height="34" fill="#008000"/>
<rect x="1032" y="520" width="4" height="34" fill="#008000"/>
<rect x="1040" y="520" width="4" height="34" fill="#ff0000"/>
<rect x="1048" y="522" width="4" height="32" fill="#ff0000"/>
<rect x="1056" y="522" width="4" height="32" fill="#ff0000"/>
<rect x="1064" y="524" width="4" height="30" fill="#ff0000"/>
<rect x="1072" y="529" width="4" height="25" fill="#ff0000"/>
<rect x="1080" y="536" width="4" height="18" fill="#ff0000"/>
<rect x="1088" y="542" width="4" height="12" fill="#ff0000"/>
<rect x="1096" y="548" width="4" height="6" fill="#ff0000"/>
<rect x="1104" y="551" width="4" height="3" fill="#ff0000"/>
<rect x="1112" y="550" width="4" height="4" fill="#008000"/>
<rect x="8" y="631" width="4" height="6" fill="#ff0000"/>
<rect x="16" y="631" width="4" height="9" fill="#ff0000"/>
<rect x="24" y="631" width="4" height="11" fill="#ff0000"/>
<rect x="32" y="631" width="4" height="9" fill="#008000"/>
<rect x="40" y="631" width="4" height="4" fill="#008000"/>
<rect x="48" y="631" width="4" height="3" fill="#008000"/>
<rect x="56" y="631" width="4" height="2" fill="#008000"/>
<rect x="64" y="631" width="4" height="3" fill="#ff0000"/>
<rect x="72" y="631" width="4" height="2" fill="#008000"/>
<rect x="80" y="631" width="4" height="1" fill="#008000"/>
<rect x="88" y="631" width="4" height="4" fill="#ff0000"/>
<rect x="96" y="631" width="4" height="2" fill="#008000"/>
<rect x="104" y="631" width="4" height="1" fill="#008000"/>
<rect x="112" y="631" width="4" height="1" fill="#ff0000"/>
<rect x="120" y="631" width="4" height="1" fill="#008000"/>
<rect x="128" y="629" width="4" height="2" fill="#008000"/>
<rect x="136" y="628" width="4" height="3" fill="#008000"/>
<rect x="144" y="628" width="4" height="3" fill="#008000"/>
<rect x="152" y="628" width="4" height="3" fill="#ff0000"/>
<rect x="160" y="630" width="4" height="1" fill="#ff0000"/>
<rect x="168" y="631" width="4" height="1" fill="#ff0000"/>
<rect x="176" y="631" width="4" height="2" fill="#ff0000"/>
<rect x="184" y="631" width="4" height="3" fill="#ff0000"/>
<rect x="192" y="631" width="4" height="3" fill="#008000"/>
<rect x="200" y="631" width="4" height="4" fill="#ff0000"/>
<rect x="208" y="631" width="4" height="5" fill="#ff0000"/>
<rect x="216" y="631" width="4" height="5" fill="#ff0000"/>
<rect x="224" y="631" width="4" height="5" fill="#ff0000"/>
<rect x="232" y="631" width="4" height="4" fill="#008000"/>
<rect x="240" y="630" width="4" height="1" fill="#008000"/>
<rect x="248" y="626" width="4" height="5" fill="#008000"/>
<rect x="256" y="621" width="4" height="10" fill="#008000"/>
<rect x="264" y="621" width="4" height="10" fill="#008000"/>
<rect x="272" y="622" width="4" height="9" fill="#ff0000"/>
<rect x="280" y="624" width="4" height="7" fill="#ff0000"/>
<rect x="288" y="623" width="4" height="8" fill="#008000"/>
<rect x="296" y="619" width="4" height="12" fill="#008000"/>
<rect x="304" y="615" width="4" height="16" fill="#008000"/>
<rect x="312" y="611" width="4" height="20" fill="#008000"/>
<rect x="320" y="612" width="4" height="19" fill="#ff0000"/>
<rect x="328" y="616" width="4" height="15" fill="#ff0000"/>
<rect x="336" y="623" width="4" height="8" fill="#ff0000"/>
<rect x="344" y="627" width="4" height="4" fill="#ff0000"/>
<rect x="352" y="630" width="4" height="1" fill="#ff0000"/>
<rect x="360" y="631" width="4" height="1" fill="#ff0000"/>
<rect x="368" y="631" width="4" height="1" fill="#ff0000"/>
<rect x="376" y="631" width="4" height="1" fill="#008000"/>
<rect x="384" y="631" width="4" height="1" fill="#ff0000"/>
<rect x="392" y="631" width="4" height="1" fill="#008000"/>
<rect x="400" y="631" width="4" height="1" fill="#ff0000"/>
<rect x="408" y="631" width="4" height="4" fill="#ff0000"/>
<rect x="416" y="631" width="4" height="6" fill="#ff0000"/>
<rect x="424" y="631" width="4" height="5" fill="#008000"/>
<rect x="432" y="631" width="4" height="3" fill="#008000"/>
<rect x="440" y="631" width="4" height="7" fill="#ff0000"/>
<rect x="448" y="631" width="4" height="9" fill="#ff0000"/>
<rect x="456" y="631" width="4" height="13" fill="#ff0000"/>
<rect x="464" y="631" width="4" height="19" fill="#ff0000"/>
<rect x="472" y="631" width="4" height="20" fill="#ff0000"/>
<rect x="480" y="631" width="4" height="15" fill="#008000"/>
<rect x="488" y="631" width="4" height="9" fill="#008000"/>
<rect x="496" y="631" width="4" height="2" fill="#008000"/>
<rect x="504" y="629" width="4" height="2" fill="#008000"/>
<rect x="512" y="631" width="4" height="1" fill="#ff0000"/>
<rect x="520" y="631" width="4" height="3" fill="#ff0000"/>
<rect x="528" y="631" width="4" height="6" fill="#ff0000"/>
<rect x="536" y="631" width="4" height="6" fill="#ff0000"/>
<rect x="544" y="631" width="4" height="4" fill="#008000"/>
<rect x="552" y="631" width="4" height="2" fill="#008000"/>
<rect x="560" y="630" width="4" height="1" fill="#008000"/>
<rect x="568" y="626" width="4" height="5" fill="#008000"/>
<rect x="576" y="624" width="4" height="7" fill="#008000"/>
<rect x="584" y="622" width="4" height="9" fill="#008000"/>
<rect x="592" y="619" width="4" height="12" fill="#008000"/>
<rect x="600" y="614" width="4" height="17" fill="#008000"/>
<rect x="608" y="607" width="4" height="24" fill="#008000"/>
<rect x="616" y="601" width="4" height="30" fill="#008000"/>
<rect x="624" y="598" width="4" height="33" fill="#008000"/>
<rect x="632" y="599" width="4" height="32" fill="#ff0000"/>
<rect x="640" y="606" width="4" height="25" fill="#ff0000"/>
<rect x="648" y="593" width="4" height="38" fill="#008000"/>
<rect x="656" y="589" width="4" height="42" fill="#008000"/>
<rect x="664" y="587" width="4" height="44" fill="#008000"/>
<rect x="672" y="586" width="4" height="45" fill="#008000"/>
<rect x="680" y="587" width="4" height="44" fill="#ff0000"/>
<rect x="688" y="615" width="4" height="16" fill="#ff0000"/>
<rect x="696" y="631" width="4" height="1" fill="#ff0000"/>
<rect x="704" y="631" width="4" height="9" fill="#ff0000"/>
<rect x="712" y="631" width="4" height="14" fill="#ff0000"/>
<rect x="720" y="631" width="4" height="12" fill="#008000"/>
<rect x="728" y="631" width="4" height="12" fill="#008000"/>
<rect x="736" y="631" width="4" height="13" fill="#ff0000"/>
<rect x="744" y="631" width="4" height="11" fill="#008000"/>
<rect x="752" y="631" width="4" height="6" fill="#008000"/>
<rect x="760" y="631" width="4" height="3" fill="#008000"/>
<rect x="768" y="626" width="4" height="5" fill="#008000"/>
<rect x="776" y="622" width="4" height="9" fill="#008000"/>
<rect x="784" y="617" width="4" height="14" fill="#008000"/>
<rect x="792" y="612" width="4" height="19" fill="#008000"/>
<rect x="800" y="608" width="4" height="23" fill="#008000"/>
<rect x="808" y="609" width="4" height="22" fill="#ff0000"/>
<rect x="816" y="613" width="4" height="18" fill="#ff0000"/>
<rect x="824" y="616" width="4" height="15" fill="#ff0000"/>
<rect x="832" y="625" width="4" height="6" fill="#ff0000"/>
<rect x="840" y="631" width="4" height="3" fill="#ff0000"/>
<rect x="848" y="631" width="4" height="15" fill="#ff0000"/>
<rect x="856" y="631" width="4" height="22" fill="#ff0000"/>
<rect x="864" y="631" width="4" height="29" fill="#ff0000"/>
<rect x="872" y="631" width="4" height="34" fill="#ff0000"/>
<rect x="880" y="631" width="4" height="32" fill="#008000"/>
<rect x="888" y="631" width="4" height="28" fill="#008000"/>
<rect x="896" y="631" width="4" height="25" fill="#008000"/>
<rect x="904" y="631" width="4" height="23" fill="#008000"/>
<rect x="912" y="631" width="4" height="19" fill="#008000"/>
<rect x="920" y="631" width="4" height="11" fill="#008000"/>
<rect x="928" y="631" width="4" height="2" fill="#008000"/>
<rect x="936" y="629" width="4" height="2" fill="#008000"/>
<rect x="944" y="630" width="4" height="1" fill="#ff0000"/>
<rect x="952" y="631" width="4" height="1" fill="#ff0000"/>
<rect x="960" y="631" width="4" height="7" fill="#ff0000"/>
<rect x="968" y="631" width="4" height="14" fill="#ff0000"/>
<rect x="976" y="631" width="4" height="13" fill="#008000"/>
<rect x="984" y="631" width="4" height="3" fill="#008000"/>
<rect x="992" y="630" width="4" height="1" fill="#008000"/>
<rect x="1000" y="619" width="4" height="12" fill="#008000"/>
<rect x="1008" y="616" width="4" height="15" fill="#008000"/>
<rect x="1016" y="616" width="4" height="15" fill="#008000"/>
<rect x="1024" y="619" width="4" height="12" fill="#ff0000"/>
<rect x="1032" y="624" width="4" height="7" fill="#ff0000"/>
<rect x="1040" y="629" width="4" height="2" fill="#ff0000"/>
<rect x="1048" y="631" width="4" height="4" fill="#ff0000"/>
<rect x="1056" y="631" width="4" height="4" fill="#ff0000"/>
<rect x="1064" y="631" width="4" height="8" fill="#ff0000"/>
<rect x="1072" y="631" width="4" height="17" fill="#ff0000"/>
<rect x="1080" y="631" width="4" height="27" fill="#ff0000"/>
<rect x="1088" y="631" width="4" height="34" fill="#ff0000"/>
<rect x="1096" y="631" width="4" height="37" fill="#ff0000"/>
<rect x="1104" y="631" width="4" height="30" fill="#008000"/>
<rect x="1112" y="631" width="4" height="13" fill="#008000"/>
<rect x="8" y="730" width="4" height="2" fill="#ff0000"/>
<rect x="8" y="732" width="4" height="2" fill="#ff0000"/>
<rect x="16" y="730" width="4" height="2" fill="#ff0000"/>
<rect x="16" y="732" width="4" height="1" fill="#ff0000"/>
<rect x="24" y="730" width="4" height="2" fill="#ff0000"/>
<rect x="24" y="732" width="4" height="2" fill="#008000"/>
<rect x="32" y="730" width="4" height="2" fill="#008000"/>
<rect x="32" y="732" width="4" height="2" fill="#ff0000"/>
<rect x="40" y="728" width="4" height="4" fill="#008000"/>
<rect x="40" y="732" width="4" height="2" fill="#008000"/>
<rect x="48" y="728" width="4" height="4" fill="#008000"/>
<rect x="48" y="732" width="4" height="3" fill="#008000"/>
<rect x="56" y="728" width="4" height="4" fill="#008000"/>
<rect x="56" y="732" width="4" height="4" fill="#008000"/>
<rect x="64" y="728" width="4" height="4" fill="#008000"/>
<rect x="64" y="732" width="4" height="3" fill="#ff0000"/>
<rect x="72" y="727" width="4" height="5" fill="#008000"/>
<rect x="72" y="732" width="4" height="3" fill="#ff0000"/>
<rect x="80" y="727" width="4" height="5" fill="#ff0000"/>
<rect x="80" y="732" width="4" height="4" fill="#008000"/>
<rect x="88" y="727" width="4" height="5" fill="#ff0000"/>
<rect x="88" y="732" width="4" height="6" fill="#008000"/>
<rect x="96" y="727" width="4" height="5" fill="#008000"/>
<rect x="96" y="732" width="4" height="5" fill="#ff0000"/>
<rect x="104" y="726" width="4" height="6" fill="#008000"/>
<rect x="104" y="732" width="4" height="4" fill="#ff0000"/>
<rect x="112" y="725" width="4" height="7" fill="#008000"/>
<rect x="112" y="732" width="4" height="6" fill="#008000"/>
<rect x="120" y="726" width="4" height="6" fill="#ff0000"/>
<rect x="120" y="732" width="4" height="6" fill="#008000"/>
<rect x="128" y="725" width="4" height="7" fill="#008000"/>
<rect x="128" y="732" width="4" height="5" fill="#ff0000"/>
<rect x="136" y="725" width="4" height="7" fill="#008000"/>
<rect x="136" y="732" width="4" height="5" fill="#008000"/>
<rect x="144" y="725" width="4" height="7" fill="#008000"/>
<rect x="144" y="732" width="4" height="4" fill="#ff0000"/>
<rect x="152" y="725" width="4" height="7" fill="#ff0000"/>
<rect x="152" y="732" width="4" height="4" fill="#ff0000"/>
<rect x="160" y="726" width="4" height="6" fill="#ff0000"/>
<rect x="160" y="732" width="4" height="3" fill="#ff0000"/>
<rect x="168" y="726" width="4" height="6" fill="#ff0000"/>
<rect x="168" y="732" width="4" height="2" fill="#ff0000"/>
<rect x="176" y="727" width="4" height="5" fill="#ff0000"/>
<rect x="176" y="732" width="4" height="3" fill="#008000"/>
<rect x="184" y="727" width="4" height="5" fill="#ff0000"/>
<rect x="184" y="732" width="4" height="2" fill="#ff0000"/>
<rect x="192" y="727" width="4" height="5" fill="#ff0000"/>
<rect x="192" y="732" width="4" height="3" fill="#008000"/>
<rect x="200" y="727" width="4" height="5" fill="#ff0000"/>
<rect x="200" y="732" width="4" height="4" fill="#008000"/>
<rect x="208" y="727" width="4" height="5" fill="#008000"/>
<rect x="208" y="732" width="4" height="4" fill="#ff0000"/>
<rect x="216" y="727" width="4" height="5" fill="#008000"/>
<rect x="216" y="732" width="4" height="3" fill="#ff0000"/>
<rect x="224" y="726" width="4" height="6" fill="#008000"/>
<rect x="224" y="732" width="4" height="4" fill="#008000"/>
<rect x="232" y="726" width="4" height="6" fill="#ff0000"/>
<rect x="232" y="732" width="4" height="5" fill="#008000"/>
<rect x="240" y="726" width="4" height="6" fill="#008000"/>
<rect x="240" y="732" width="4" height="6" fill="#008000"/>
<rect x="248" y="726" width="4" height="6" fill="#008000"/>
<rect x="248" y="732" width="4" height="6" fill="#008000"/>
<rect x="256" y="724" width="4" height="8" fill="#008000"/>
<rect x="256" y="732" width="4" height="6" fill="#ff0000"/>
<rect x="264" y="724" width="4" height="8" fill="#008000"/>
<rect x="264" y="732" width="4" height="3" fill="#ff0000"/>
<rect x="272" y="724" width="4" height="8" fill="#ff0000"/>
<rect x="272" y="732" width="4" height="1" fill="#ff0000"/>
<rect x="280" y="726" width="4" height="6" fill="#ff0000"/>
<rect x="280" y="732" width="4" height="1" fill="#ff0000"/>
<rect x="288" y="727" width="4" height="5" fill="#ff0000"/>
<rect x="288" y="732" width="4" height="2" fill="#008000"/>
<rect x="296" y="728" width="4" height="4" fill="#ff0000"/>
<rect x="296" y="732" width="4" height="2" fill="#008000"/>
<rect x="304" y="728" width="4" height="4" fill="#008000"/>
<rect x="304" y="732" width="4" height="1" fill="#ff0000"/>
<rect x="312" y="728" width="4" height="4" fill="#008000"/>
<rect x="312" y="732" width="4" height="2" fill="#008000"/>
<rect x="320" y="729" width="4" height="3" fill="#ff0000"/>
<rect x="320" y="732" width="4" height="6" fill="#008000"/>
<rect x="328" y="731" width="4" height="1" fill="#ff0000"/>
<rect x="328" y="732" width="4" height="7" fill="#008000"/>
<rect x="336" y="731" width="4" height="1" fill="#ff0000"/>
<rect x="336" y="732" width="4" height="8" fill="#008000"/>
<rect x="344" y="729" width="4" height="3" fill="#008000"/>
<rect x="344" y="732" width="4" height="8" fill="#008000"/>
<rect x="352" y="727" width="4" height="5" fill="#008000"/>
<rect x="352" y="732" width="4" height="8" fill="#ff0000"/>
<rect x="360" y="727" width="4" height="5" fill="#008000"/>
<rect x="360" y="732" width="4" height="8" fill="#ff0000"/>
<rect x="368" y="726" width="4" height="6" fill="#008000"/>
<rect x="368" y="732" width="4" height="7" fill="#ff0000"/>
<rect x="376" y="726" width="4" height="6" fill="#008000"/>
<rect x="376" y="732" width="4" height="7" fill="#ff0000"/>
<rect x="384" y="726" width="4" height="6" fill="#008000"/>
<rect x="384" y="732" width="4" height="6" fill="#ff0000"/>
<rect x="392" y="726" width="4" height="6" fill="#ff0000"/>
<rect x="392" y="732" width="4" height="6" fill="#ff0000"/>
<rect x="400" y="726" width="4" height="6" fill="#008000"/>
<rect x="400" y="732" width="4" height="6" fill="#ff0000"/>
<rect x="408" y="726" width="4" height="6" fill="#008000"/>
<rect x="408" y="732" width="4" height="5" fill="#ff0000"/>
<rect x="416" y="725" width="4" height="7" fill="#008000"/>
<rect x="416" y="732" width="4" height="5" fill="#ff0000"/>
<rect x="424" y="726" width="4" height="6" fill="#ff0000"/>
<rect x="424" y="732" width="4" height="5" fill="#ff0000"/>
<rect x="432" y="726" width="4" height="6" fill="#ff0000"/>
<rect x="432" y="732" width="4" height="3" fill="#ff0000"/>
<rect x="440" y="726" width="4" height="6" fill="#ff0000"/>
<rect x="440" y="732" width="4" height="1" fill="#ff0000"/>
<rect x="448" y="727" width="4" height="5" fill="#ff0000"/>
<rect x="448" y="732" width="4" height="2" fill="#008000"/>
<rect x="456" y="728" width="4" height="4" fill="#ff0000"/>
<rect x="456" y="732" width="4" height="4" fill="#008000"/>
<rect x="464" y="728" width="4" height="4" fill="#ff0000"/>
<rect x="464" y="732" width="4" height="1" fill="#ff0000"/>
<rect x="472" y="727" width="4" height="5" fill="#008000"/>
<rect x="472" y="732" width="4" height="3" fill="#008000"/>
<rect x="480" y="729" width="4" height="3" fill="#ff0000"/>
<rect x="480" y="732" width="4" height="6" fill="#008000"/>
<rect x="488" y="731" width="4" height="1" fill="#ff0000"/>
<rect x="488" y="732" width="4" height="8" fill="#008000"/>
<rect x="496" y="730" width="4" height="2" fill="#008000"/>
<rect x="496" y="732" width="4" height="6" fill="#ff0000"/>
<rect x="504" y="728" width="4" height="4" fill="#008000"/>
<rect x="504" y="732" width="4" height="4" fill="#ff0000"/>
<rect x="512" y="728" width="4" height="4" fill="#ff0000"/>
<rect x="512" y="732" width="4" height="4" fill="#ff0000"/>
<rect x="520" y="729" width="4" height="3" fill="#ff0000"/>
<rect x="520" y="732" width="4" height="4" fill="#008000"/>
<rect x="528" y="730" width="4" height="2" fill="#ff0000"/>
<rect x="528" y="732" width="4" height="5" fill="#008000"/>
<rect x="536" y="729" width="4" height="3" fill="#008000"/>
<rect x="536" y="732" width="4" height="5" fill="#008000"/>
<rect x="544" y="729" width="4" height="3" fill="#008000"/>
<rect x="544" y="732" width="4" height="5" fill="#ff0000"/>
<rect x="552" y="728" width="4" height="4" fill="#008000"/>
<rect x="552" y="732" width="4" height="5" fill="#008000"/>
<rect x="560" y="728" width="4" height="4" fill="#008000"/>
<rect x="560" y="732" width="4" height="5" fill="#ff0000"/>
<rect x="568" y="727" width="4" height="5" fill="#008000"/>
<rect x="568" y="732" width="4" height="4" fill="#ff0000"/>
<rect x="576" y="727" width="4" height="5" fill="#ff0000"/>
<rect x="576" y="732" width="4" height="4" fill="#ff0000"/>
<rect x="584" y="727" width="4" height="5" fill="#ff0000"/>
<rect x="584" y="732" width="4" height="2" fill="#ff0000"/>
<rect x="592" y="728" width="4" height="4" fill="#ff0000"/>
<rect x="592" y="732" width="4" height="1" fill="#ff0000"/>
<rect x="600" y="728" width="4" height="4" fill="#ff0000"/>
<rect x="600" y="732" width="4" height="1" fill="#ff0000"/>
<rect x="608" y="729" width="4" height="3" fill="#ff0000"/>
<rect x="608" y="732" width="4" height="1" fill="#008000"/>
<rect x="616" y="730" width="4" height="2" fill="#ff0000"/>
<rect x="616" y="732" width="4" height="3" fill="#008000"/>
<rect x="624" y="731" width="4" height="1" fill="#ff0000"/>
<rect x="624" y="732" width="4" height="7" fill="#008000"/>
<rect x="632" y="732" width="4" height="12" fill="#008000"/>
<rect x="640" y="728" width="4" height="4" fill="#008000"/>
<rect x="640" y="732" width="4" height="16" fill="#008000"/>
<rect x="648" y="725" width="4" height="7" fill="#008000"/>
<rect x="648" y="732" width="4" height="17" fill="#008000"/>
<rect x="656" y="720" width="4" height="12" fill="#008000"/>
<rect x="656" y="732" width="4" height="16" fill="#ff0000"/>
<rect x="664" y="718" width="4" height="14" fill="#008000"/>
<rect x="664" y="732" width="4" height="15" fill="#ff0000"/>
<rect x="672" y="717" width="4" height="15" fill="#008000"/>
<rect x="672" y="732" width="4" height="30" fill="#008000"/>
<rect x="680" y="717" width="4" height="15" fill="#ff0000"/>
<rect x="680" y="732" width="4" height="38" fill="#008000"/>
<rect x="688" y="708" width="4" height="24" fill="#008000"/>
<rect x="688" y="732" width="4" height="35" fill="#ff0000"/>
<rect x="696" y="701" width="4" height="31" fill="#008000"/>
<rect x="696" y="732" width="4" height="34" fill="#ff0000"/>
<rect x="704" y="696" width="4" height="36" fill="#008000"/>
<rect x="704" y="732" width="4" height="32" fill="#ff0000"/>
<rect x="712" y="697" width="4" height="35" fill="#ff0000"/>
<rect x="712" y="732" width="4" height="29" fill="#ff0000"/>
<rect x="720" y="697" width="4" height="35" fill="#ff0000"/>
<rect x="720" y="732" width="4" height="27" fill="#ff0000"/>
<rect x="728" y="698" width="4" height="34" fill="#ff0000"/>
<rect x="728" y="732" width="4" height="25" fill="#ff0000"/>
<rect x="736" y="699" width="4" height="33" fill="#ff0000"/>
<rect x="736" y="732" width="4" height="23" fill="#ff0000"/>
<rect x="744" y="700" width="4" height="32" fill="#ff0000"/>
<rect x="744" y="732" width="4" height="21" fill="#ff0000"/>
<rect x="752" y="701" width="4" height="31" fill="#ff0000"/>
<rect x="752" y="732" width="4" height="20" fill="#ff0000"/>
<rect x="760" y="702" width="4" height="30" fill="#ff0000"/>
<rect x="760" y="732" width="4" height="18" fill="#ff0000"/>
<rect x="768" y="703" width="4" height="29" fill="#ff0000"/>
<rect x="768" y="732" width="4" height="18" fill="#ff0000"/>
<rect x="776" y="704" width="4" height="28" fill="#ff0000"/>
<rect x="776" y="732" width="4" height="19" fill="#008000"/>
<rect x="784" y="704" width="4" height="28" fill="#ff0000"/>
<rect x="784" y="732" width="4" height="19" fill="#008000"/>
<rect x="792" y="703" width="4" height="29" fill="#008000"/>
<rect x="792" y="732" width="4" height="22" fill="#008000"/>
<rect x="800" y="703" width="4" height="29" fill="#008000"/>
<rect x="800" y="732" width="4" height="24" fill="#008000"/>
<rect x="808" y="701" width="4" height="31" fill="#008000"/>
<rect x="808" y="732" width="4" height="25" fill="#008000"/>
<rect x="816" y="699" width="4" height="33" fill="#008000"/>
<rect x="816" y="732" width="4" height="30" fill="#008000"/>
<rect x="824" y="697" width="4" height="35" fill="#008000"/>
<rect x="824" y="732" width="4" height="33" fill="#008000"/>
<rect x="832" y="694" width="4" height="38" fill="#008000"/>
<rect x="832" y="732" width="4" height="34" fill="#008000"/>
<rect x="840" y="691" width="4" height="41" fill="#008000"/>
<rect x="840" y="732" width="4" height="33" fill="#ff0000"/>
<rect x="848" y="689" width="4" height="43" fill="#008000"/>
<rect x="848" y="732" width="4" height="33" fill="#ff0000"/>
<rect x="856" y="688" width="4" height="44" fill="#008000"/>
<rect x="856" y="732" width="4" height="32" fill="#ff0000"/>
<rect x="864" y="688" width="4" height="44" fill="#008000"/>
<rect x="864" y="732" width="4" height="30" fill="#ff0000"/>
<rect x="872" y="688" width="4" height="44" fill="#ff0000"/>
<rect x="872" y="732" width="4" height="25" fill="#ff0000"/>
<rect x="880" y="689" width="4" height="43" fill="#ff0000"/>
<rect x="880" y="732" width="4" height="22" fill="#ff0000"/>
<rect x="888" y="692" width="4" height="40" fill="#ff0000"/>
<rect x="888" y="732" width="4" height="18" fill="#ff0000"/>
<rect x="896" y="695" width="4" height="37" fill="#ff0000"/>
<rect x="896" y="732" width="4" height="16" fill="#ff0000"/>
<rect x="904" y="697" width="4" height="35" fill="#ff0000"/>
<rect x="904" y="732" width="4" height="14" fill="#ff0000"/>
<rect x="912" y="700" width="4" height="32" fill="#ff0000"/>
<rect x="912" y="732" width="4" height="14" fill="#ff0000"/>
<rect x="920" y="702" width="4" height="30" fill="#ff0000"/>
<rect x="920" y="732" width="4" height="11" fill="#ff0000"/>
<rect x="928" y="703" width="4" height="29" fill="#ff0000"/>
<rect x="928" y="732" width="4" height="9" fill="#ff0000"/>
<rect x="936" y="705" width="4" height="27" fill="#ff0000"/>
<rect x="936" y="732" width="4" height="9" fill="#008000"/>
<rect x="944" y="707" width="4" height="25" fill="#ff0000"/>
<rect x="944" y="732" width="4" height="11" fill="#008000"/>
<rect x="952" y="708" width="4" height="24" fill="#ff0000"/>
<rect x="952" y="732" width="4" height="15" fill="#008000"/>
<rect x="960" y="708" width="4" height="24" fill="#008000"/>
<rect x="960" y="732" width="4" height="14" fill="#ff0000"/>
<rect x="968" y="706" width="4" height="26" fill="#008000"/>
<rect x="968" y="732" width="4" height="8" fill="#ff0000"/>
<rect x="976" y="706" width="4" height="26" fill="#ff0000"/>
<rect x="976" y="732" width="4" height="9" fill="#008000"/>
<rect x="984" y="709" width="4" height="23" fill="#ff0000"/>
<rect x="984" y="732" width="4" height="9" fill="#ff0000"/>
<rect x="992" y="710" width="4" height="22" fill="#ff0000"/>
<rect x="992" y="732" width="4" height="8" fill="#ff0000"/>
<rect x="1000" y="712" width="4" height="20" fill="#ff0000"/>
<rect x="1000" y="732" width="4" height="10" fill="#008000"/>
<rect x="1008" y="712" width="4" height="20" fill="#008000"/>
<rect x="1008" y="732" width="4" height="12" fill="#008000"/>
<rect x="1016" y="712" width="4" height="20" fill="#ff0000"/>
<rect x="1016" y="732" width="4" height="14" fill="#008000"/>
<rect x="1024" y="711" width="4" height="21" fill="#008000"/>
<rect x="1024" y="732" width="4" height="17" fill="#008000"/>
<rect x="1032" y="709" width="4" height="23" fill="#008000"/>
<rect x="1032" y="732" width="4" height="20" fill="#008000"/>
<rect x="1040" y="707" width="4" height="25" fill="#008000"/>
<rect x="1040" y="732" width="4" height="19" fill="#ff0000"/>
<rect x="1048" y="705" width="4" height="27" fill="#008000"/>
<rect x="1048" y="732" width="4" height="19" fill="#ff0000"/>
<rect x="1056" y="704" width="4" height="28" fill="#008000"/>
<rect x="1056" y="732" width="4" height="18" fill="#ff0000"/>
<rect x="1064" y="704" width="4" height="28" fill="#ff0000"/>
<rect x="1064" y="732" width="4" height="18" fill="#ff0000"/>
<rect x="1072" y="705" width="4" height="27" fill="#ff0000"/>
<rect x="1072" y="732" width="4" height="17" fill="#ff0000"/>
<rect x="1080" y="705" width="4" height="27" fill="#ff0000"/>
<rect x="1080" y="732" width="4" height="17" fill="#ff0000"/>
<rect x="1088" y="706" width="4" height="26" fill="#ff0000"/>
<rect x="1088" y="732" width="4" height="14" fill="#ff0000"/>
<rect x="1096" y="706" width="4" height="26" fill="#008000"/>
<rect x="1096" y="732" width="4" height="5" fill="#ff0000"/>
<rect x="1104" y="708" width="4" height="24" fill="#ff0000"/>
<rect x="1104" y="732" width="4" height="1" fill="#ff0000"/>
<rect x="1112" y="713" width="4" height="19" fill="#ff0000"/>
<rect x="1112" y="732" width="4" height="3" fill="#008000"/>
<rect x="1120" y="719" width="4" height="13" fill="#ff0000"/>
<rect x="1120" y="732" width="4" height="3" fill="#008000"/>
<rect x="1128" y="723" width="4" height="9" fill="#ff0000"/>
<rect x="1128" y="732" width="4" height="1" fill="#ff0000"/>
<rect x="1136" y="724" width="4" height="8" fill="#ff0000"/>
<rect x="1136" y="732" width="4" height="2" fill="#008000"/>
<rect x="1144" y="724" width="4" height="8" fill="#008000"/>
<rect x="1152" y="722" width="4" height="10" fill="#008000"/>
</g>
<rect x="3" y="631" width="1" height="3" fill="#ff0000"/><rect x="3" y="730" width="1" height="4" fill="#ff0000"/>
<g stroke="#dfdfdf" stroke-width="1" stroke-dasharray="3 3" fill="none">
<line x1="2" y1="554.5" x2="1237" y2="554.5"/>
<line x1="2" y1="631.5" x2="1237" y2="631.5"/>
<line x1="2" y1="732.5" x2="1237" y2="732.5"/>
</g>
<g fill="#000">
<rect x="2" y="2" width="1236" height="1"/>
<rect x="2" y="473" width="1236" height="1"/>
<rect x="2" y="2" width="1" height="472"/>
<rect x="1237" y="2" width="1" height="472"/>
<rect x="2" y="475" width="1236" height="1"/>
<rect x="2" y="575" width="1236" height="1"/>
<rect x="2" y="475" width="1" height="101"/>
<rect x="1237" y="475" width="1" height="101"/>
<rect x="2" y="577" width="1236" height="1"/>
<rect x="2" y="677" width="1236" height="1"/>
<rect x="2" y="577" width="1" height="101"/>
<rect x="1237" y="577" width="1" height="101"/>
<rect x="2" y="679" width="1236" height="1"/>
<rect x="2" y="779" width="1236" height="1"/>
<rect x="2" y="679" width="1" height="101"/>
<rect x="1237" y="679" width="1" height="101"/>
<rect x="1238" y="36" width="4" height="1"/>
<rect x="1238" y="69" width="4" height="1"/>
<rect x="1238" y="103" width="4" height="1"/>
<rect x="1238" y="137" width="4" height="1"/>
<rect x="1238" y="170" width="4" height="1"/>
<rect x="1238" y="204" width="4" height="1"/>
<rect x="1238" y="237" width="4" height="1"/>
<rect x="1238" y="271" width="4" height="1"/>
<rect x="1238" y="305" width="4" height="1"/>
<rect x="1238" y="338" width="4" height="1"/>
<rect x="1238" y="372" width="4" height="1"/>
<rect x="1238" y="406" width="4" height="1"/>
<rect x="1238" y="439" width="4" height="1"/>
<rect x="1238" y="476" width="4" height="1"/>
<rect x="1238" y="574" width="4" height="1"/>
<rect x="1238" y="578" width="4" height="1"/>
<rect x="1238" y="676" width="4" height="1"/>
<rect x="1238" y="680" width="4" height="1"/>
<rect x="1238" y="778" width="4" height="1"/>
<rect x="1238" y="778" width="4" height="1"/>
<rect x="2" y="780" width="1" height="4"/>
<rect x="66" y="780" width="1" height="4"/>
<rect x="130" y="780" width="1" height="4"/>
<rect x="194" y="780" width="1" height="4"/>
<rect x="258" y="780" width="1" height="4"/>
<rect x="322" y="780" width="1" height="4"/>
<rect x="386" y="780" width="1" height="4"/>
<rect x="450" y="780" width="1" height="4"/>
<rect x="514" y="780" width="1" height="4"/>
<rect x="578" y="780" width="1" height="4"/>
<rect x="642" y="780" width="1" height="4"/>
<rect x="706" y="780" width="1" height="4"/>
<rect x="770" y="780" width="1" height="4"/>
<rect x="834" y="780" width="1" height="4"/>
<rect x="898" y="780" width="1" height="4"/>
<rect x="962" y="780" width="1" height="4"/>
<rect x="1026" y="780" width="1" height="4"/>
<rect x="1090" y="780" width="1" height="4"/>
</g>
<rect x="5" y="480" width="63" height="10" fill="#fff"/><rect x="5" y="582" width="70" height="10" fill="#fff"/><rect x="5" y="684" width="108" height="10" fill="#fff"/>
<rect x="1240" y="43" width="29" height="11" fill="#c80000"/>
<g shape-rendering="geometricPrecision" font-size="10px" text-rendering="geometricPrecision" style="filter:grayscale(1)" stroke="#000" stroke-width="0.15">
<text x="1243" y="40" textLength="22.5" lengthAdjust="spacingAndGlyphs" >4.110</text>
<text x="1243" y="73" textLength="22.5" lengthAdjust="spacingAndGlyphs" >4.060</text>
<text x="1243" y="107" textLength="22.5" lengthAdjust="spacingAndGlyphs" >4.010</text>
<text x="1243" y="141" textLength="22.5" lengthAdjust="spacingAndGlyphs" >3.960</text>
<text x="1243" y="174" textLength="22.5" lengthAdjust="spacingAndGlyphs" >3.910</text>
<text x="1243" y="208" textLength="22.5" lengthAdjust="spacingAndGlyphs" >3.860</text>
<text x="1243" y="241" textLength="22.5" lengthAdjust="spacingAndGlyphs" >3.810</text>
<text x="1243" y="275" textLength="22.5" lengthAdjust="spacingAndGlyphs" >3.760</text>
<text x="1243" y="309" textLength="22.5" lengthAdjust="spacingAndGlyphs" >3.710</text>
<text x="1243" y="342" textLength="22.5" lengthAdjust="spacingAndGlyphs" >3.660</text>
<text x="1243" y="376" textLength="22.5" lengthAdjust="spacingAndGlyphs" >3.610</text>
<text x="1243" y="410" textLength="22.5" lengthAdjust="spacingAndGlyphs" >3.560</text>
<text x="1243" y="443" textLength="22.5" lengthAdjust="spacingAndGlyphs" >3.510</text>
<text x="1243" y="52" textLength="22.5" lengthAdjust="spacingAndGlyphs" style="fill:#fff;stroke:#fff">4.092</text>
<text x="1243" y="484" textLength="27.5" lengthAdjust="spacingAndGlyphs" >0.2384</text>
<text x="1243" y="557" textLength="27.5" lengthAdjust="spacingAndGlyphs" >0.0000</text>
<text x="1243" y="573" textLength="30.6" lengthAdjust="spacingAndGlyphs" >-0.0622</text>
<text x="1243" y="586" textLength="32.5" lengthAdjust="spacingAndGlyphs" >0.05416</text>
<text x="1243" y="634" textLength="32.5" lengthAdjust="spacingAndGlyphs" >0.00000</text>
<text x="1243" y="675" textLength="35.6" lengthAdjust="spacingAndGlyphs" >-0.04609</text>
<text x="1243" y="688" textLength="27.5" lengthAdjust="spacingAndGlyphs" >0.1195</text>
<text x="1243" y="735" textLength="27.5" lengthAdjust="spacingAndGlyphs" >0.0000</text>
<text x="1243" y="777" textLength="30.6" lengthAdjust="spacingAndGlyphs" >-0.1057</text>
<text x="2.7" y="792" textLength="49.5" lengthAdjust="spacingAndGlyphs" >14 Oct 2025</text>
<text x="66.7" y="792" textLength="52.8" lengthAdjust="spacingAndGlyphs" >14 Oct 16:00</text>
<text x="130.7" y="792" textLength="52.8" lengthAdjust="spacingAndGlyphs" >15 Oct 02:00</text>
<text x="194.7" y="792" textLength="52.8" lengthAdjust="spacingAndGlyphs" >15 Oct 10:00</text>
<text x="258.7" y="792" textLength="52.8" lengthAdjust="spacingAndGlyphs" >15 Oct 18:00</text>
<text x="322.7" y="792" textLength="52.8" lengthAdjust="spacingAndGlyphs" >16 Oct 04:00</text>
<text x="386.7" y="792" textLength="52.8" lengthAdjust="spacingAndGlyphs" >16 Oct 12:00</text>
<text x="450.7" y="792" textLength="52.8" lengthAdjust="spacingAndGlyphs" >16 Oct 20:00</text>
<text x="514.7" y="792" textLength="52.8" lengthAdjust="spacingAndGlyphs" >17 Oct 06:00</text>
<text x="578.7" y="792" textLength="52.8" lengthAdjust="spacingAndGlyphs" >17 Oct 14:00</text>
<text x="642.7" y="792" textLength="52.8" lengthAdjust="spacingAndGlyphs" >17 Oct 22:00</text>
<text x="706.7" y="792" textLength="52.8" lengthAdjust="spacingAndGlyphs" >20 Oct 08:00</text>
<text x="770.7" y="792" textLength="52.8" lengthAdjust="spacingAndGlyphs" >20 Oct 16:00</text>
<text x="834.7" y="792" textLength="52.8" lengthAdjust="spacingAndGlyphs" >21 Oct 02:00</text>
<text x="898.7" y="792" textLength="52.8" lengthAdjust="spacingAndGlyphs" >21 Oct 10:00</text>
<text x="962.7" y="792" textLength="52.8" lengthAdjust="spacingAndGlyphs" >21 Oct 18:00</text>
<text x="1026.7" y="792" textLength="52.8" lengthAdjust="spacingAndGlyphs" >22 Oct 04:00</text>
<text x="1090.7" y="792" textLength="52.8" lengthAdjust="spacingAndGlyphs" >22 Oct 12:00</text>
<text x="5.9" y="488" textLength="30.0" lengthAdjust="spacingAndGlyphs" >AOcust</text>
<text x="40" y="488" textLength="27.3" lengthAdjust="spacingAndGlyphs" >0.0132</text>
<text x="5.9" y="590" textLength="28.8" lengthAdjust="spacingAndGlyphs" >ACcust</text>
<text x="38.75" y="590" textLength="35.3" lengthAdjust="spacingAndGlyphs" >-0.01329</text>
<text x="5.9" y="692" textLength="41.0" lengthAdjust="spacingAndGlyphs" >GatorCust</text>
<text x="50.8" y="692" textLength="27.3" lengthAdjust="spacingAndGlyphs" >0.0215</text>
<text x="82" y="692" textLength="30.0" lengthAdjust="spacingAndGlyphs" >-0.0041</text>
</g>
</svg></body></html>
